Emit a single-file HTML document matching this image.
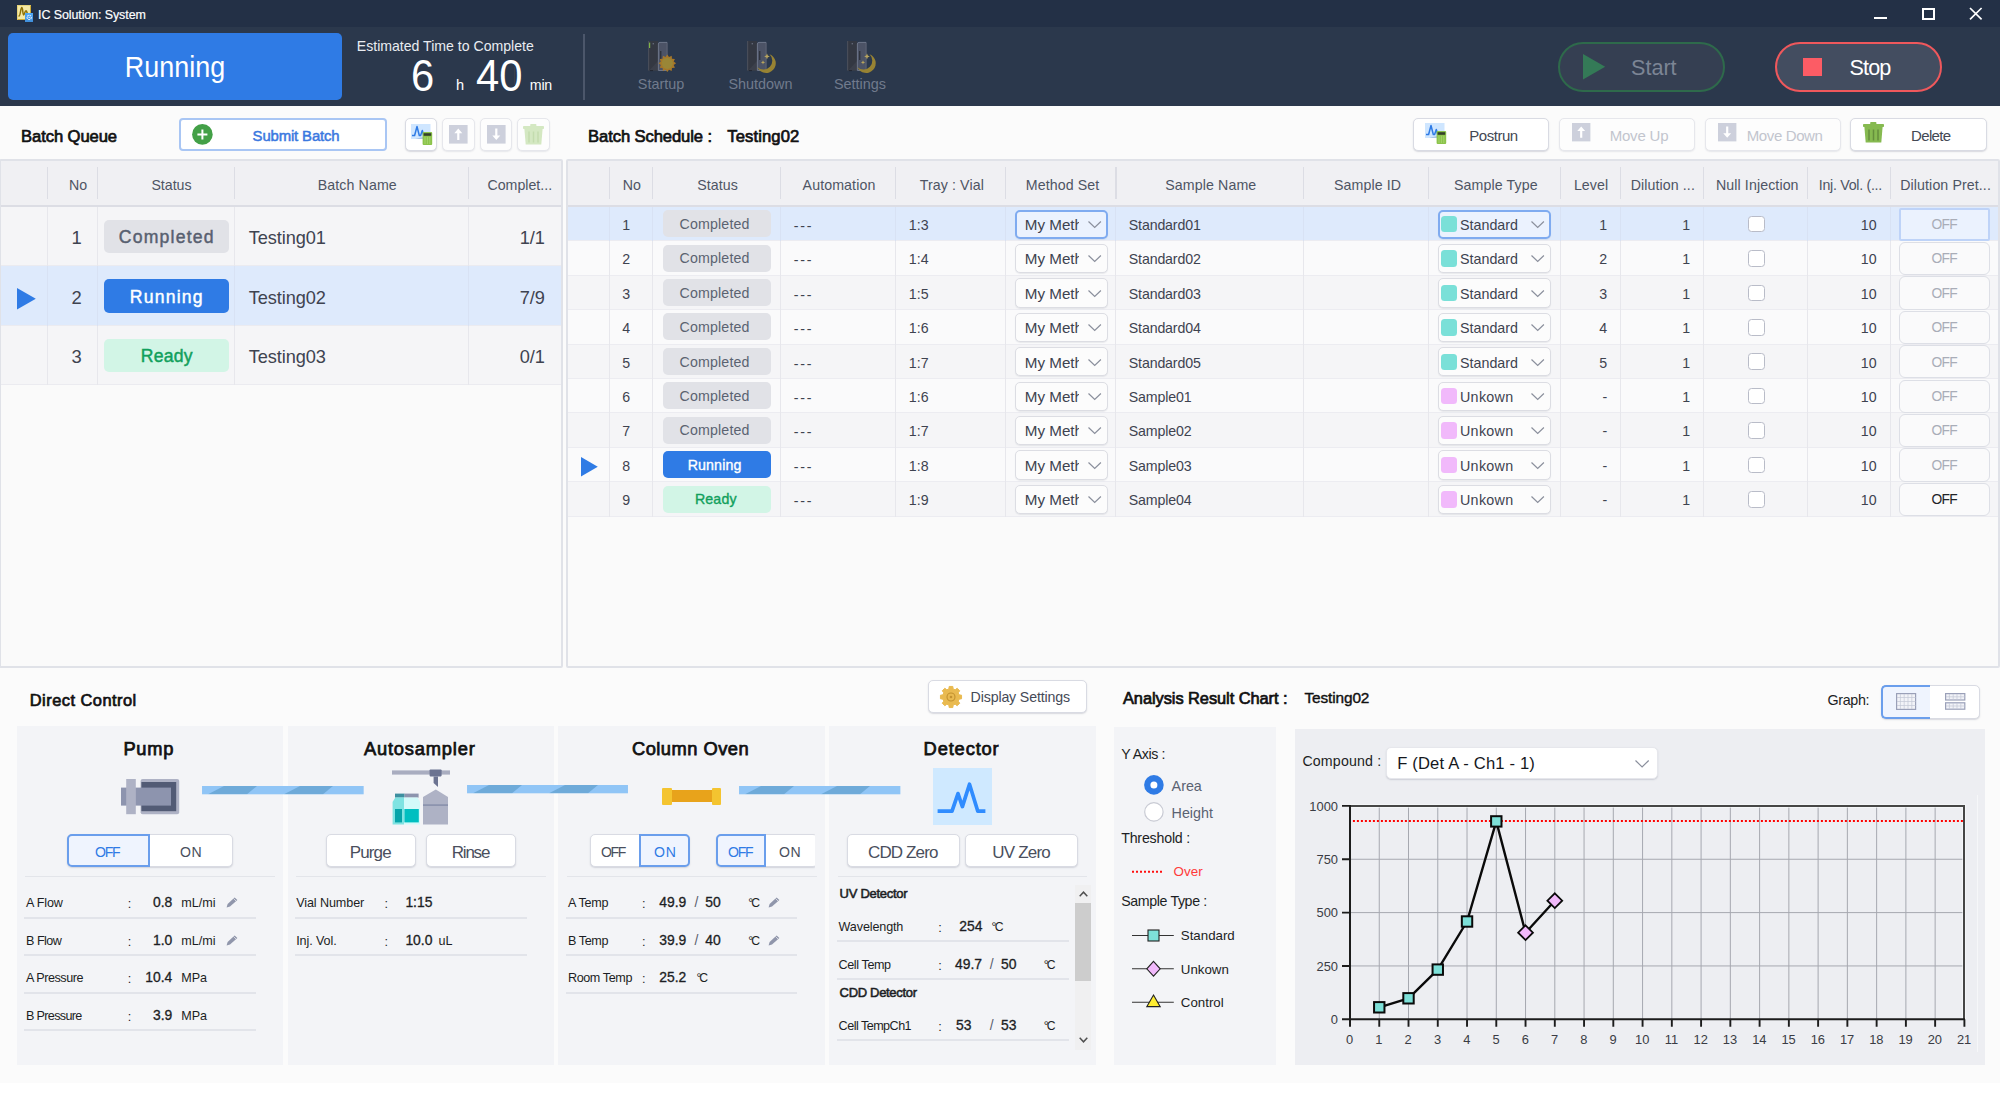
<!DOCTYPE html>
<html lang="en"><head><meta charset="utf-8"><title>IC Solution: System</title>
<style>
html,body{margin:0;padding:0;}
body{width:2000px;height:1098px;overflow:hidden;background:#ffffff;font-family:"Liberation Sans",sans-serif;}
#app{position:relative;width:2000px;height:1098px;overflow:hidden;background:#ffffff;}
.t{position:absolute;white-space:nowrap;margin:0;padding:0;}
.b{position:absolute;box-sizing:border-box;}
.btn{position:absolute;box-sizing:border-box;background:#fff;border:1px solid #d9dbe3;border-radius:5px;box-shadow:0 1px 1.5px rgba(90,95,120,.22);}
.btn.dis{border-color:#e6e7ec;box-shadow:0 1px 1.5px rgba(90,95,120,.12);background:#fdfdfd;}
.sel{position:absolute;box-sizing:border-box;background:#eff4fe;border:2px solid #6a9eec;}
.cmb{position:absolute;box-sizing:border-box;background:#fcfcfc;border:1px solid #dcdde3;border-radius:5px;box-shadow:0 1px 1px rgba(90,95,120,.10);}
.cmb.on{background:#ebf2fe;border:2px solid #7fabf0;}
.chk{position:absolute;box-sizing:border-box;background:#fff;border:1.5px solid #b9bcc8;border-radius:3.5px;}
.offb{position:absolute;box-sizing:border-box;background:#fafafb;border:1px solid #dddfe6;border-radius:6px;}
.offb.on{background:#ebf2fe;border:2px solid #bed3f8;border-radius:2px;}
svg{position:absolute;overflow:visible;}

</style></head>
<body>
<div id="app">
<!-- title bar -->
<div class="b" style="left:0px;top:0px;width:2000px;height:27px;background:#233046;"></div>
<div class="b" style="left:16.6px;top:5px;width:14.7px;height:14.8px;background:#f5e9a6;border:1px solid #e6d37a;border-right-color:#d0ad38;border-bottom-color:#d0ad38;"></div>
<svg style="left:16px;top:4px" width="18" height="18" viewBox="16 4 18 18"><path d="M19 16 C20.4 16 20.6 7.6 21.8 7.6 C23 7.6 22.6 15 23.6 15 C24.6 15 24.8 10.8 26 10.8 C27 10.8 27 14 28 14.4" fill="none" stroke="#8f7206" stroke-width="1.5" stroke-linecap="round"/></svg>
<div class="b" style="left:25px;top:13.2px;width:8.3px;height:8.4px;background:linear-gradient(#52aaf7,#3f8edb);"></div>
<svg style="left:25px;top:13.2px" width="9" height="9" viewBox="0 0 9 9"><circle cx="4.2" cy="4.4" r="2.1" fill="none" stroke="#e4f1ff" stroke-width="1.1" stroke-dasharray="1.6 .7"/><circle cx="4.2" cy="4.4" r=".7" fill="#e4f1ff"/></svg>
<div class="t" style="left:37.7px;top:7px;font-size:13.4px;line-height:15px;color:#ffffff;transform-origin:0 0;transform:scaleX(0.93);-webkit-text-stroke:.2px #fff;letter-spacing:-0.09px;">IC Solution: System</div>
<div class="b" style="left:1874px;top:17.3px;width:12.6px;height:1.5px;background:#fff;"></div>
<div class="b" style="left:1921.6px;top:7.6px;width:13px;height:12.2px;border:2px solid #fff;"></div>
<svg style="left:1969px;top:7px" width="14" height="14" viewBox="0 0 14 14"><path d="M1 1 L12.6 12.4 M12.6 1 L1 12.4" stroke="#fff" stroke-width="1.7" fill="none"/></svg>
<!-- toolbar -->
<div class="b" style="left:0px;top:27px;width:2000px;height:79px;background:#2b384c;"></div>
<div class="b" style="left:8.3px;top:33.2px;width:333.7px;height:66.6px;background:#2f7be5;border-radius:5px;"></div>
<div class="t" style="left:175.2px;top:51px;font-size:29.1px;line-height:32px;color:#ffffff;transform:translateX(-50%) scaleX(0.925);">Running</div>
<div class="t" style="left:356.8px;top:38px;font-size:14.1px;line-height:16px;color:#e9ecf1;">Estimated Time to Complete</div>
<div class="t" style="left:411.2px;top:51px;font-size:43.7px;line-height:49px;color:#ffffff;transform-origin:0 0;transform:scaleX(0.955);">6</div>
<div class="t" style="left:456px;top:77px;font-size:14.6px;line-height:16px;color:#ffffff;">h</div>
<div class="t" style="left:476px;top:51px;font-size:43.7px;line-height:49px;color:#ffffff;transform-origin:0 0;transform:scaleX(0.955);">40</div>
<div class="b" style="left:514.2px;top:67.4px;width:1px;height:18.8px;background:#3a3f4c;"></div>
<div class="t" style="left:529.8px;top:77px;font-size:14.2px;line-height:16px;color:#ffffff;letter-spacing:-.2px;">min</div>
<div class="b" style="left:583px;top:33.6px;width:1.5px;height:66.2px;background:#4c576b;"></div>
<svg style="left:647.7px;top:40px" width="32" height="34" viewBox="0 0 32 34"><rect x="0" y="1" width="10" height="29.5" fill="#343842"/><rect x="0" y="1" width="1.2" height="29.5" fill="#484d59"/><path d="M1.2 30.5 L10 21 L10 30.5 Z" fill="#3c404b"/><path d="M10.4 30.5 V4 Q10.4 2.4 12 2.4 H19 V30.5 Z" fill="#4c5366" stroke="#747c8e" stroke-width=".9"/><rect x="18.4" y="3" width="1.2" height="27.5" fill="#4c5366"/><rect x="12" y="11" width="1.4" height="9" fill="#2f333d"/><rect x="4.6" y="3" width="1.4" height="1.4" fill="#626877"/><rect x="2" y="30.2" width="3" height=".9" fill="#20242c"/><rect x="1" y="2.6" width="1.2" height="5.4" fill="#7fb548"/><polygon points="28.10,23.30 25.68,25.01 26.92,27.70 23.97,27.97 23.70,30.92 21.01,29.68 19.30,32.10 17.59,29.68 14.90,30.92 14.63,27.97 11.68,27.70 12.92,25.01 10.50,23.30 12.92,21.59 11.68,18.90 14.63,18.63 14.90,15.68 17.59,16.92 19.30,14.50 21.01,16.92 23.70,15.68 23.97,18.63 26.92,18.90 25.68,21.59" fill="#a67729"/><circle cx="19.3" cy="23.3" r="5.6" fill="#9a8637"/></svg>
<svg style="left:746.8px;top:40px" width="32" height="34" viewBox="0 0 32 34"><rect x="0" y="1" width="10" height="29.5" fill="#343842"/><rect x="0" y="1" width="1.2" height="29.5" fill="#484d59"/><path d="M1.2 30.5 L10 21 L10 30.5 Z" fill="#3c404b"/><path d="M10.4 30.5 V4 Q10.4 2.4 12 2.4 H19 V30.5 Z" fill="#4c5366" stroke="#747c8e" stroke-width=".9"/><rect x="18.4" y="3" width="1.2" height="27.5" fill="#4c5366"/><rect x="12" y="11" width="1.4" height="9" fill="#2f333d"/><rect x="4.6" y="3" width="1.4" height="1.4" fill="#626877"/><rect x="2" y="30.2" width="3" height=".9" fill="#20242c"/><path d="M22.5 14.3 A9.6 9.6 0 1 1 10.4 27.2 A8.6 8.6 0 0 0 22.5 14.3 Z" fill="#988333"/><path d="M20 13.6 l.8 2 2 .8 -2 .8 -.8 2 -.8 -2 -2 -.8 2 -.8z" fill="#b9a55e"/><path d="M16 20.3 l.6 1.5 1.5 .6 -1.5 .6 -.6 1.5 -.6 -1.5 -1.5 -.6 1.5 -.6z" fill="#b9a55e"/></svg>
<svg style="left:846.6px;top:40px" width="32" height="34" viewBox="0 0 32 34"><rect x="0" y="1" width="10" height="29.5" fill="#343842"/><rect x="0" y="1" width="1.2" height="29.5" fill="#484d59"/><path d="M1.2 30.5 L10 21 L10 30.5 Z" fill="#3c404b"/><path d="M10.4 30.5 V4 Q10.4 2.4 12 2.4 H19 V30.5 Z" fill="#4c5366" stroke="#747c8e" stroke-width=".9"/><rect x="18.4" y="3" width="1.2" height="27.5" fill="#4c5366"/><rect x="12" y="11" width="1.4" height="9" fill="#2f333d"/><rect x="4.6" y="3" width="1.4" height="1.4" fill="#626877"/><rect x="2" y="30.2" width="3" height=".9" fill="#20242c"/><path d="M22.5 14.3 A9.6 9.6 0 1 1 10.4 27.2 A8.6 8.6 0 0 0 22.5 14.3 Z" fill="#988333"/><path d="M20 13.6 l.8 2 2 .8 -2 .8 -.8 2 -.8 -2 -2 -.8 2 -.8z" fill="#b9a55e"/><path d="M16 20.3 l.6 1.5 1.5 .6 -1.5 .6 -.6 1.5 -.6 -1.5 -1.5 -.6 1.5 -.6z" fill="#b9a55e"/></svg>
<div class="t" style="left:661px;top:76px;font-size:14.4px;line-height:16px;color:#717b8d;transform:translateX(-50%);">Startup</div>
<div class="t" style="left:760.5px;top:76px;font-size:14.4px;line-height:16px;color:#717b8d;transform:translateX(-50%);">Shutdown</div>
<div class="t" style="left:860px;top:76px;font-size:14.4px;line-height:16px;color:#717b8d;transform:translateX(-50%);">Settings</div>
<div class="b" style="left:1558.4px;top:41.6px;width:166.4px;height:50.2px;background:#353f52;border:2px solid #2e6a4b;border-radius:25px;"></div>
<svg style="left:1583px;top:54.4px" width="23" height="26" viewBox="0 0 23 26"><path d="M0 0 L22.2 12.8 L0 25.6 Z" fill="#347a57"/></svg>
<div class="t" style="left:1631px;top:55px;font-size:21.6px;line-height:25px;color:#7c8595;">Start</div>
<div class="b" style="left:1774.8px;top:41.6px;width:166.8px;height:50.2px;background:#434d60;border:2px solid #ef585c;border-radius:25px;"></div>
<div class="b" style="left:1803px;top:57.6px;width:19px;height:18.4px;background:#fc5c65;"></div>
<div class="t" style="left:1849.4px;top:55px;font-size:21.6px;line-height:25px;color:#ffffff;letter-spacing:-0.83px;">Stop</div>
<!-- sub toolbar -->
<div class="b" style="left:0px;top:106px;width:2000px;height:976.5px;background:#fbfbfb;"></div>
<div class="t" style="left:21.1px;top:127px;font-size:16.6px;line-height:19px;color:#111111;-webkit-text-stroke:.7px #111;letter-spacing:-0.09px;">Batch Queue</div>
<div class="b" style="left:179.3px;top:118.2px;width:208px;height:32.4px;background:#fff;border:2px solid #a9c6f4;border-radius:4px;"></div>
<svg style="left:191.5px;top:124px" width="21" height="21" viewBox="0 0 21 21"><circle cx="10.4" cy="10.4" r="10.3" fill="#43a047"/><path d="M10.4 5.4 V15.4 M5.4 10.4 H15.4" stroke="#fff" stroke-width="2" fill="none"/></svg>
<div class="t" style="left:252.6px;top:128px;font-size:14.9px;line-height:16px;color:#3a78e0;-webkit-text-stroke:.5px #3a78e0;letter-spacing:-0.14px;">Submit Batch</div>
<div class="btn" style="left:404.5px;top:118.2px;width:32.3px;height:32.4px;"></div>
<div class="btn dis" style="left:442.3px;top:118.2px;width:32.3px;height:32.4px;"></div>
<div class="btn dis" style="left:479.8px;top:118.2px;width:32.3px;height:32.4px;"></div>
<div class="btn dis" style="left:517.3px;top:118.2px;width:32.3px;height:32.4px;"></div>
<svg style="left:410.5px;top:123.5px" width="22" height="22" viewBox="0 0 22 22"><rect x="0" y="0" width="19.5" height="15" fill="#cfe6ff"/><path d="M1 11.5 H3.6 L6 2.5 L8.3 11.5 H9.6 L11.3 6.5 L12.8 11.5 H14" fill="none" stroke="#2f7be5" stroke-width="1.5" stroke-linejoin="round"/><path d="M4 15 L14 12.6 V15 Z" fill="#a9c4e6"/><rect x="11.6" y="8" width="9.6" height="13" rx="1" fill="#8bc34a"/><rect x="12.6" y="9.2" width="7.6" height="2.6" fill="#33402a"/><path d="M14 12.8 V20 M16.4 12.8 V20 M18.8 12.8 V20" stroke="#a9d773" stroke-width=".8"/></svg>
<svg style="left:449px;top:125px" width="18.6" height="18.6" viewBox="0 0 18.6 18.6"><rect width="18.6" height="18.6" fill="#cdd0dc"/><path d="M9.3 3.6 L13.3 8.2 H10.4 V15 H8.2 V8.2 H5.3 Z" fill="#fff"/></svg>
<svg style="left:486.5px;top:125px" width="18.6" height="18.6" viewBox="0 0 18.6 18.6"><rect width="18.6" height="18.6" fill="#cdd0dc"/><path d="M9.3 15 L13.3 10.4 H10.4 V3.6 H8.2 V10.4 H5.3 Z" fill="#fff"/></svg>
<svg style="left:523px;top:124px" width="22" height="22" viewBox="0 0 22 22"><rect x="7.2" y="0" width="6.2" height="2.6" rx=".8" fill="#d4e8c2"/><rect x="0" y="1.9" width="21" height="3.2" rx=".8" fill="#d4e8c2"/><path d="M1.4 5.1 H19.6 L18.3 20.6 H2.7 Z" fill="#d4e8c2"/><path d="M6 7.5 V18.5 M10.5 7.5 V18.5 M15 7.5 V18.5" stroke="#c3dcae" stroke-width="1.5"/></svg>
<div class="t" style="left:588.1px;top:127px;font-size:16.6px;line-height:19px;color:#111111;-webkit-text-stroke:.7px #111;letter-spacing:-0.1px;">Batch Schedule :</div>
<div class="t" style="left:727.3px;top:127px;font-size:16.6px;line-height:19px;color:#111111;-webkit-text-stroke:.7px #111;letter-spacing:0.12px;">Testing02</div>
<div class="btn" style="left:1412.7px;top:118.2px;width:136.8px;height:32.4px;"></div>
<svg style="left:1425px;top:122.8px" width="22" height="22" viewBox="0 0 22 22"><rect x="0" y="0" width="19.5" height="15" fill="#cfe6ff"/><path d="M1 11.5 H3.6 L6 2.5 L8.3 11.5 H9.6 L11.3 6.5 L12.8 11.5 H14" fill="none" stroke="#2f7be5" stroke-width="1.5" stroke-linejoin="round"/><path d="M4 15 L14 12.6 V15 Z" fill="#a9c4e6"/><rect x="11.6" y="8" width="9.6" height="13" rx="1" fill="#8bc34a"/><rect x="12.6" y="9.2" width="7.6" height="2.6" fill="#33402a"/><path d="M14 12.8 V20 M16.4 12.8 V20 M18.8 12.8 V20" stroke="#a9d773" stroke-width=".8"/></svg>
<div class="t" style="left:1469.3px;top:127px;font-size:15px;line-height:17px;color:#434853;letter-spacing:-0.47px;">Postrun</div>
<div class="btn dis" style="left:1559px;top:118.2px;width:136.2px;height:32.4px;"></div>
<svg style="left:1571.8px;top:123.2px" width="18.4" height="18.4" viewBox="0 0 18.6 18.6"><rect width="18.6" height="18.6" fill="#cdd0dc"/><path d="M9.3 3.6 L13.3 8.2 H10.4 V15 H8.2 V8.2 H5.3 Z" fill="#fff"/></svg>
<div class="t" style="left:1609.7px;top:127px;font-size:15px;line-height:17px;color:#c2c5ce;letter-spacing:-0.2px;">Move Up</div>
<div class="btn dis" style="left:1704.8px;top:118.2px;width:136.4px;height:32.4px;"></div>
<svg style="left:1717.5px;top:123.2px" width="18.4" height="18.4" viewBox="0 0 18.6 18.6"><rect width="18.6" height="18.6" fill="#cdd0dc"/><path d="M9.3 15 L13.3 10.4 H10.4 V3.6 H8.2 V10.4 H5.3 Z" fill="#fff"/></svg>
<div class="t" style="left:1746.7px;top:127px;font-size:15px;line-height:17px;color:#c2c5ce;letter-spacing:-0.37px;">Move Down</div>
<div class="btn" style="left:1850.2px;top:118.2px;width:137px;height:32.4px;"></div>
<svg style="left:1862.5px;top:122px" width="22" height="22" viewBox="0 0 22 22"><rect x="7.2" y="0" width="6.2" height="2.6" rx=".8" fill="#86ba50"/><rect x="0" y="1.9" width="21" height="3.2" rx=".8" fill="#86ba50"/><path d="M1.4 5.1 H19.6 L18.3 20.6 H2.7 Z" fill="#86ba50"/><path d="M6 7.5 V18.5 M10.5 7.5 V18.5 M15 7.5 V18.5" stroke="#658f3c" stroke-width="1.5"/></svg>
<div class="t" style="left:1911px;top:127px;font-size:15px;line-height:17px;color:#434853;letter-spacing:-0.63px;">Delete</div>
<!-- batch queue table -->
<div class="b" style="left:-1px;top:159px;width:564px;height:509px;background:#fafafa;border:2px solid #e0e2e8;border-radius:2px;"></div>
<div class="b" style="left:1px;top:161px;width:560px;height:46.4px;background:#f0f0f3;border-bottom:2px solid #dcdde4;"></div>
<div class="b" style="left:47px;top:167.3px;width:1.2px;height:32.1px;background:#dcdde4;"></div>
<div class="b" style="left:97px;top:167.3px;width:1.2px;height:32.1px;background:#dcdde4;"></div>
<div class="b" style="left:234px;top:167.3px;width:1.2px;height:32.1px;background:#dcdde4;"></div>
<div class="b" style="left:467.8px;top:167.3px;width:1.2px;height:32.1px;background:#dcdde4;"></div>
<div class="t" style="left:78.2px;top:177px;font-size:14.2px;line-height:16px;color:#4e5564;transform:translateX(-50%);">No</div>
<div class="t" style="left:171.5px;top:177px;font-size:14.2px;line-height:16px;color:#4e5564;transform:translateX(-50%);">Status</div>
<div class="t" style="left:357.3px;top:177px;font-size:14.2px;line-height:16px;color:#4e5564;transform:translateX(-50%);letter-spacing:.1px;">Batch Name</div>
<div class="t" style="left:519.8px;top:177px;font-size:14.2px;line-height:16px;color:#4e5564;transform:translateX(-50%);">Complet...</div>
<div class="b" style="left:1px;top:206.9px;width:560px;height:59.4px;background:#f5f5f7;border-bottom:1px solid #ebebf0;"></div>
<div class="b" style="left:47px;top:206.9px;width:1.1px;height:59.4px;background:#e7e7ec;"></div>
<div class="b" style="left:97px;top:206.9px;width:1.1px;height:59.4px;background:#e7e7ec;"></div>
<div class="b" style="left:234px;top:206.9px;width:1.1px;height:59.4px;background:#e7e7ec;"></div>
<div class="b" style="left:467.8px;top:206.9px;width:1.1px;height:59.4px;background:#e7e7ec;"></div>
<div class="t" style="left:76.6px;top:227px;font-size:18.4px;line-height:21px;color:#3e4350;transform:translateX(-50%);">1</div>
<div class="b" style="left:104.2px;top:220px;width:125px;height:33.2px;background:#e1e2e7;border-radius:5px;"></div>
<div class="t" style="left:166.8px;top:227px;font-size:17.6px;line-height:20px;color:#586070;transform:translateX(-50%);letter-spacing:1.2px;-webkit-text-stroke:.45px #586070;">Completed</div>
<div class="t" style="left:248.8px;top:228px;font-size:18.2px;line-height:20px;color:#3e4350;letter-spacing:-.1px;">Testing01</div>
<div class="t" style="left:545px;top:228px;font-size:18.2px;line-height:20px;color:#3e4350;transform-origin:100% 0;transform:translateX(-100%);">1/1</div>
<div class="b" style="left:1px;top:266.3px;width:560px;height:59.4px;background:#deeafc;border-bottom:1px solid #ebebf0;"></div>
<div class="b" style="left:47px;top:266.3px;width:1.1px;height:59.4px;background:#d8e2f4;"></div>
<div class="b" style="left:97px;top:266.3px;width:1.1px;height:59.4px;background:#d8e2f4;"></div>
<div class="b" style="left:234px;top:266.3px;width:1.1px;height:59.4px;background:#d8e2f4;"></div>
<div class="b" style="left:467.8px;top:266.3px;width:1.1px;height:59.4px;background:#d8e2f4;"></div>
<div class="t" style="left:76.6px;top:287px;font-size:18.4px;line-height:21px;color:#3e4350;transform:translateX(-50%);">2</div>
<div class="b" style="left:104.2px;top:279.4px;width:125px;height:33.2px;background:#2f7be5;border-radius:5px;"></div>
<div class="t" style="left:166.8px;top:287px;font-size:17.6px;line-height:20px;color:#ffffff;transform:translateX(-50%);letter-spacing:1.2px;-webkit-text-stroke:.45px #ffffff;">Running</div>
<div class="t" style="left:248.8px;top:288px;font-size:18.2px;line-height:20px;color:#3e4350;letter-spacing:-.1px;">Testing02</div>
<div class="t" style="left:545px;top:288px;font-size:18.2px;line-height:20px;color:#3e4350;transform-origin:100% 0;transform:translateX(-100%);">7/9</div>
<svg style="left:17.2px;top:288px" width="18.8" height="21.6" viewBox="0 0 18.8 21.6"><path d="M0 0 L18.8 10.8 L0 21.6 Z" fill="#2f7be5"/></svg>
<div class="b" style="left:1px;top:325.7px;width:560px;height:59.4px;background:#f5f5f7;border-bottom:1px solid #ebebf0;"></div>
<div class="b" style="left:47px;top:325.7px;width:1.1px;height:59.4px;background:#e7e7ec;"></div>
<div class="b" style="left:97px;top:325.7px;width:1.1px;height:59.4px;background:#e7e7ec;"></div>
<div class="b" style="left:234px;top:325.7px;width:1.1px;height:59.4px;background:#e7e7ec;"></div>
<div class="b" style="left:467.8px;top:325.7px;width:1.1px;height:59.4px;background:#e7e7ec;"></div>
<div class="t" style="left:76.6px;top:346px;font-size:18.4px;line-height:21px;color:#3e4350;transform:translateX(-50%);">3</div>
<div class="b" style="left:104.2px;top:338.8px;width:125px;height:33.2px;background:#d2f5e6;border-radius:5px;"></div>
<div class="t" style="left:166.8px;top:346px;font-size:17.6px;line-height:20px;color:#11a05c;transform:translateX(-50%);letter-spacing:.2px;-webkit-text-stroke:.45px #11a05c;">Ready</div>
<div class="t" style="left:248.8px;top:347px;font-size:18.2px;line-height:20px;color:#3e4350;letter-spacing:-.1px;">Testing03</div>
<div class="t" style="left:545px;top:347px;font-size:18.2px;line-height:20px;color:#3e4350;transform-origin:100% 0;transform:translateX(-100%);">0/1</div>
<!-- batch schedule table -->
<div class="b" style="left:566px;top:159px;width:1434px;height:509px;background:#fafafa;border:2px solid #e0e2e8;border-radius:2px;"></div>
<div class="b" style="left:568px;top:161px;width:1430px;height:46.4px;background:#f0f0f3;border-bottom:2px solid #dcdde4;"></div>
<div class="b" style="left:608.5px;top:167.3px;width:1.2px;height:32.1px;background:#dcdde4;"></div>
<div class="b" style="left:651.9px;top:167.3px;width:1.2px;height:32.1px;background:#dcdde4;"></div>
<div class="b" style="left:779.9px;top:167.3px;width:1.2px;height:32.1px;background:#dcdde4;"></div>
<div class="b" style="left:894.9px;top:167.3px;width:1.2px;height:32.1px;background:#dcdde4;"></div>
<div class="b" style="left:1005.1px;top:167.3px;width:1.2px;height:32.1px;background:#dcdde4;"></div>
<div class="b" style="left:1115.4px;top:167.3px;width:1.2px;height:32.1px;background:#dcdde4;"></div>
<div class="b" style="left:1303.1px;top:167.3px;width:1.2px;height:32.1px;background:#dcdde4;"></div>
<div class="b" style="left:1428px;top:167.3px;width:1.2px;height:32.1px;background:#dcdde4;"></div>
<div class="b" style="left:1559.5px;top:167.3px;width:1.2px;height:32.1px;background:#dcdde4;"></div>
<div class="b" style="left:1619.9px;top:167.3px;width:1.2px;height:32.1px;background:#dcdde4;"></div>
<div class="b" style="left:1702.8px;top:167.3px;width:1.2px;height:32.1px;background:#dcdde4;"></div>
<div class="b" style="left:1807.1px;top:167.3px;width:1.2px;height:32.1px;background:#dcdde4;"></div>
<div class="b" style="left:1889.7px;top:167.3px;width:1.2px;height:32.1px;background:#dcdde4;"></div>
<div class="t" style="left:631.8px;top:177px;font-size:14.2px;line-height:16px;color:#4e5564;transform:translateX(-50%);letter-spacing:.1px;">No</div>
<div class="t" style="left:717.6px;top:177px;font-size:14.2px;line-height:16px;color:#4e5564;transform:translateX(-50%);letter-spacing:.1px;">Status</div>
<div class="t" style="left:839px;top:177px;font-size:14.2px;line-height:16px;color:#4e5564;transform:translateX(-50%);letter-spacing:.1px;">Automation</div>
<div class="t" style="left:951.8px;top:177px;font-size:14.2px;line-height:16px;color:#4e5564;transform:translateX(-50%);letter-spacing:.1px;">Tray : Vial</div>
<div class="t" style="left:1062.6px;top:177px;font-size:14.2px;line-height:16px;color:#4e5564;transform:translateX(-50%);letter-spacing:.1px;">Method Set</div>
<div class="t" style="left:1210.8px;top:177px;font-size:14.2px;line-height:16px;color:#4e5564;transform:translateX(-50%);letter-spacing:.1px;">Sample Name</div>
<div class="t" style="left:1367.6px;top:177px;font-size:14.2px;line-height:16px;color:#4e5564;transform:translateX(-50%);letter-spacing:.1px;">Sample ID</div>
<div class="t" style="left:1495.8px;top:177px;font-size:14.2px;line-height:16px;color:#4e5564;transform:translateX(-50%);letter-spacing:.1px;">Sample Type</div>
<div class="t" style="left:1591.1px;top:177px;font-size:14.2px;line-height:16px;color:#4e5564;transform:translateX(-50%);letter-spacing:.1px;">Level</div>
<div class="t" style="left:1662.8px;top:177px;font-size:14.2px;line-height:16px;color:#4e5564;transform:translateX(-50%);letter-spacing:.1px;">Dilution ...</div>
<div class="t" style="left:1757.3px;top:177px;font-size:14.2px;line-height:16px;color:#4e5564;transform:translateX(-50%);letter-spacing:.1px;">Null Injection</div>
<div class="t" style="left:1818.8px;top:177px;font-size:14.2px;line-height:16px;color:#4e5564;letter-spacing:-0.28px;">Inj. Vol. (...</div>
<div class="t" style="left:1945.6px;top:177px;font-size:14.2px;line-height:16px;color:#4e5564;transform:translateX(-50%);letter-spacing:.1px;">Dilution Pret...</div>
<div class="b" style="left:568px;top:206.9px;width:1430px;height:34.42px;background:#deeafc;border-bottom:1px solid #ececf1;"></div>
<div class="b" style="left:608.5px;top:206.9px;width:1.1px;height:34.42px;background:#d8e2f4;"></div>
<div class="b" style="left:651.9px;top:206.9px;width:1.1px;height:34.42px;background:#d8e2f4;"></div>
<div class="b" style="left:779.9px;top:206.9px;width:1.1px;height:34.42px;background:#d8e2f4;"></div>
<div class="b" style="left:894.9px;top:206.9px;width:1.1px;height:34.42px;background:#d8e2f4;"></div>
<div class="b" style="left:1005.1px;top:206.9px;width:1.1px;height:34.42px;background:#d8e2f4;"></div>
<div class="b" style="left:1115.4px;top:206.9px;width:1.1px;height:34.42px;background:#d8e2f4;"></div>
<div class="b" style="left:1303.1px;top:206.9px;width:1.1px;height:34.42px;background:#d8e2f4;"></div>
<div class="b" style="left:1428px;top:206.9px;width:1.1px;height:34.42px;background:#d8e2f4;"></div>
<div class="b" style="left:1559.5px;top:206.9px;width:1.1px;height:34.42px;background:#d8e2f4;"></div>
<div class="b" style="left:1619.9px;top:206.9px;width:1.1px;height:34.42px;background:#d8e2f4;"></div>
<div class="b" style="left:1702.8px;top:206.9px;width:1.1px;height:34.42px;background:#d8e2f4;"></div>
<div class="b" style="left:1807.1px;top:206.9px;width:1.1px;height:34.42px;background:#d8e2f4;"></div>
<div class="b" style="left:1889.7px;top:206.9px;width:1.1px;height:34.42px;background:#d8e2f4;"></div>
<div class="t" style="left:626.2px;top:217px;font-size:14.2px;line-height:16px;color:#3e4350;transform:translateX(-50%);">1</div>
<div class="b" style="left:663px;top:210.21px;width:107.8px;height:27px;background:#e1e2e7;border-radius:5px;"></div>
<div class="t" style="left:714.6px;top:216px;font-size:14.2px;line-height:16px;color:#5b6271;transform:translateX(-50%);letter-spacing:.15px;">Completed</div>
<div class="t" style="left:793.8px;top:218px;font-size:14.2px;line-height:16px;color:#3e4350;letter-spacing:1.8px;">---</div>
<div class="t" style="left:908.8px;top:217px;font-size:14.2px;line-height:16px;color:#3e4350;">1:3</div>
<div class="cmb on" style="left:1015px;top:209.51px;width:92.6px;height:29.2px;"></div>
<div class="b" style="left:1024.8px;top:213.11px;width:54.6px;height:22px;overflow:hidden">
<div class="t" style="left:0;top:2.89px;font-size:15.2px;line-height:17px;color:#3e4350">My Method</div></div>
<svg style="left:1087.6px;top:220.91px" width="13.4" height="7" viewBox="0 0 13.4 7"><path d="M.5 .5 L6.7 6.4 L12.9 .5" fill="none" stroke="#8a8f9c" stroke-width="1.2"/></svg>
<div class="t" style="left:1128.8px;top:217px;font-size:14.2px;line-height:16px;color:#3e4350;letter-spacing:-.15px;">Standard01</div>
<div class="cmb on" style="left:1438px;top:209.51px;width:113.4px;height:29.2px;"></div>
<div class="b" style="left:1441px;top:215.91px;width:15.8px;height:16.4px;background:#7ae0d8;border-radius:3.5px;"></div>
<div class="t" style="left:1460px;top:217px;font-size:14.3px;line-height:16px;color:#3e4350;letter-spacing:0px;">Standard</div>
<svg style="left:1531.3px;top:220.91px" width="13.4" height="7" viewBox="0 0 13.4 7"><path d="M.5 .5 L6.7 6.4 L12.9 .5" fill="none" stroke="#8a8f9c" stroke-width="1.2"/></svg>
<div class="t" style="left:1607.2px;top:217px;font-size:14.2px;line-height:16px;color:#3e4350;transform-origin:100% 0;transform:translateX(-100%);">1</div>
<div class="t" style="left:1690.2px;top:217px;font-size:14.2px;line-height:16px;color:#3e4350;transform-origin:100% 0;transform:translateX(-100%);">1</div>
<div class="chk" style="left:1748px;top:215.71px;width:16.8px;height:16.6px;"></div>
<div class="t" style="left:1876.6px;top:217px;font-size:14.2px;line-height:16px;color:#3e4350;transform-origin:100% 0;transform:translateX(-100%);">10</div>
<div class="offb on" style="left:1899.2px;top:207.5px;width:91.2px;height:33.22px;"></div>
<div class="t" style="left:1944.3px;top:217px;font-size:13.8px;line-height:15px;color:#a9adb8;transform:translateX(-50%);letter-spacing:-.7px;">OFF</div>
<div class="b" style="left:568px;top:241.32px;width:1430px;height:34.42px;background:#fafafb;border-bottom:1px solid #ececf1;"></div>
<div class="b" style="left:608.5px;top:241.32px;width:1.1px;height:34.42px;background:#e7e7ec;"></div>
<div class="b" style="left:651.9px;top:241.32px;width:1.1px;height:34.42px;background:#e7e7ec;"></div>
<div class="b" style="left:779.9px;top:241.32px;width:1.1px;height:34.42px;background:#e7e7ec;"></div>
<div class="b" style="left:894.9px;top:241.32px;width:1.1px;height:34.42px;background:#e7e7ec;"></div>
<div class="b" style="left:1005.1px;top:241.32px;width:1.1px;height:34.42px;background:#e7e7ec;"></div>
<div class="b" style="left:1115.4px;top:241.32px;width:1.1px;height:34.42px;background:#e7e7ec;"></div>
<div class="b" style="left:1303.1px;top:241.32px;width:1.1px;height:34.42px;background:#e7e7ec;"></div>
<div class="b" style="left:1428px;top:241.32px;width:1.1px;height:34.42px;background:#e7e7ec;"></div>
<div class="b" style="left:1559.5px;top:241.32px;width:1.1px;height:34.42px;background:#e7e7ec;"></div>
<div class="b" style="left:1619.9px;top:241.32px;width:1.1px;height:34.42px;background:#e7e7ec;"></div>
<div class="b" style="left:1702.8px;top:241.32px;width:1.1px;height:34.42px;background:#e7e7ec;"></div>
<div class="b" style="left:1807.1px;top:241.32px;width:1.1px;height:34.42px;background:#e7e7ec;"></div>
<div class="b" style="left:1889.7px;top:241.32px;width:1.1px;height:34.42px;background:#e7e7ec;"></div>
<div class="t" style="left:626.2px;top:251px;font-size:14.2px;line-height:16px;color:#3e4350;transform:translateX(-50%);">2</div>
<div class="b" style="left:663px;top:244.63px;width:107.8px;height:27px;background:#e1e2e7;border-radius:5px;"></div>
<div class="t" style="left:714.6px;top:250px;font-size:14.2px;line-height:16px;color:#5b6271;transform:translateX(-50%);letter-spacing:.15px;">Completed</div>
<div class="t" style="left:793.8px;top:252px;font-size:14.2px;line-height:16px;color:#3e4350;letter-spacing:1.8px;">---</div>
<div class="t" style="left:908.8px;top:251px;font-size:14.2px;line-height:16px;color:#3e4350;">1:4</div>
<div class="cmb" style="left:1015px;top:243.93px;width:92.6px;height:29.2px;"></div>
<div class="b" style="left:1024.8px;top:247.53px;width:54.6px;height:22px;overflow:hidden">
<div class="t" style="left:0;top:2.47px;font-size:15.2px;line-height:17px;color:#3e4350">My Method</div></div>
<svg style="left:1087.6px;top:255.33px" width="13.4" height="7" viewBox="0 0 13.4 7"><path d="M.5 .5 L6.7 6.4 L12.9 .5" fill="none" stroke="#8a8f9c" stroke-width="1.2"/></svg>
<div class="t" style="left:1128.8px;top:251px;font-size:14.2px;line-height:16px;color:#3e4350;letter-spacing:-.15px;">Standard02</div>
<div class="cmb" style="left:1438px;top:243.93px;width:113.4px;height:29.2px;"></div>
<div class="b" style="left:1441px;top:250.33px;width:15.8px;height:16.4px;background:#7ae0d8;border-radius:3.5px;"></div>
<div class="t" style="left:1460px;top:251px;font-size:14.3px;line-height:16px;color:#3e4350;letter-spacing:0px;">Standard</div>
<svg style="left:1531.3px;top:255.33px" width="13.4" height="7" viewBox="0 0 13.4 7"><path d="M.5 .5 L6.7 6.4 L12.9 .5" fill="none" stroke="#8a8f9c" stroke-width="1.2"/></svg>
<div class="t" style="left:1607.2px;top:251px;font-size:14.2px;line-height:16px;color:#3e4350;transform-origin:100% 0;transform:translateX(-100%);">2</div>
<div class="t" style="left:1690.2px;top:251px;font-size:14.2px;line-height:16px;color:#3e4350;transform-origin:100% 0;transform:translateX(-100%);">1</div>
<div class="chk" style="left:1748px;top:250.13px;width:16.8px;height:16.6px;"></div>
<div class="t" style="left:1876.6px;top:251px;font-size:14.2px;line-height:16px;color:#3e4350;transform-origin:100% 0;transform:translateX(-100%);">10</div>
<div class="offb" style="left:1899.2px;top:241.92px;width:91.2px;height:33.22px;"></div>
<div class="t" style="left:1944.3px;top:251px;font-size:13.8px;line-height:15px;color:#a9adb8;transform:translateX(-50%);letter-spacing:-.7px;">OFF</div>
<div class="b" style="left:568px;top:275.74px;width:1430px;height:34.42px;background:#f5f5f7;border-bottom:1px solid #ececf1;"></div>
<div class="b" style="left:608.5px;top:275.74px;width:1.1px;height:34.42px;background:#e7e7ec;"></div>
<div class="b" style="left:651.9px;top:275.74px;width:1.1px;height:34.42px;background:#e7e7ec;"></div>
<div class="b" style="left:779.9px;top:275.74px;width:1.1px;height:34.42px;background:#e7e7ec;"></div>
<div class="b" style="left:894.9px;top:275.74px;width:1.1px;height:34.42px;background:#e7e7ec;"></div>
<div class="b" style="left:1005.1px;top:275.74px;width:1.1px;height:34.42px;background:#e7e7ec;"></div>
<div class="b" style="left:1115.4px;top:275.74px;width:1.1px;height:34.42px;background:#e7e7ec;"></div>
<div class="b" style="left:1303.1px;top:275.74px;width:1.1px;height:34.42px;background:#e7e7ec;"></div>
<div class="b" style="left:1428px;top:275.74px;width:1.1px;height:34.42px;background:#e7e7ec;"></div>
<div class="b" style="left:1559.5px;top:275.74px;width:1.1px;height:34.42px;background:#e7e7ec;"></div>
<div class="b" style="left:1619.9px;top:275.74px;width:1.1px;height:34.42px;background:#e7e7ec;"></div>
<div class="b" style="left:1702.8px;top:275.74px;width:1.1px;height:34.42px;background:#e7e7ec;"></div>
<div class="b" style="left:1807.1px;top:275.74px;width:1.1px;height:34.42px;background:#e7e7ec;"></div>
<div class="b" style="left:1889.7px;top:275.74px;width:1.1px;height:34.42px;background:#e7e7ec;"></div>
<div class="t" style="left:626.2px;top:286px;font-size:14.2px;line-height:16px;color:#3e4350;transform:translateX(-50%);">3</div>
<div class="b" style="left:663px;top:279.05px;width:107.8px;height:27px;background:#e1e2e7;border-radius:5px;"></div>
<div class="t" style="left:714.6px;top:285px;font-size:14.2px;line-height:16px;color:#5b6271;transform:translateX(-50%);letter-spacing:.15px;">Completed</div>
<div class="t" style="left:793.8px;top:287px;font-size:14.2px;line-height:16px;color:#3e4350;letter-spacing:1.8px;">---</div>
<div class="t" style="left:908.8px;top:286px;font-size:14.2px;line-height:16px;color:#3e4350;">1:5</div>
<div class="cmb" style="left:1015px;top:278.35px;width:92.6px;height:29.2px;"></div>
<div class="b" style="left:1024.8px;top:281.95px;width:54.6px;height:22px;overflow:hidden">
<div class="t" style="left:0;top:3.05px;font-size:15.2px;line-height:17px;color:#3e4350">My Method</div></div>
<svg style="left:1087.6px;top:289.75px" width="13.4" height="7" viewBox="0 0 13.4 7"><path d="M.5 .5 L6.7 6.4 L12.9 .5" fill="none" stroke="#8a8f9c" stroke-width="1.2"/></svg>
<div class="t" style="left:1128.8px;top:286px;font-size:14.2px;line-height:16px;color:#3e4350;letter-spacing:-.15px;">Standard03</div>
<div class="cmb" style="left:1438px;top:278.35px;width:113.4px;height:29.2px;"></div>
<div class="b" style="left:1441px;top:284.75px;width:15.8px;height:16.4px;background:#7ae0d8;border-radius:3.5px;"></div>
<div class="t" style="left:1460px;top:286px;font-size:14.3px;line-height:16px;color:#3e4350;letter-spacing:0px;">Standard</div>
<svg style="left:1531.3px;top:289.75px" width="13.4" height="7" viewBox="0 0 13.4 7"><path d="M.5 .5 L6.7 6.4 L12.9 .5" fill="none" stroke="#8a8f9c" stroke-width="1.2"/></svg>
<div class="t" style="left:1607.2px;top:286px;font-size:14.2px;line-height:16px;color:#3e4350;transform-origin:100% 0;transform:translateX(-100%);">3</div>
<div class="t" style="left:1690.2px;top:286px;font-size:14.2px;line-height:16px;color:#3e4350;transform-origin:100% 0;transform:translateX(-100%);">1</div>
<div class="chk" style="left:1748px;top:284.55px;width:16.8px;height:16.6px;"></div>
<div class="t" style="left:1876.6px;top:286px;font-size:14.2px;line-height:16px;color:#3e4350;transform-origin:100% 0;transform:translateX(-100%);">10</div>
<div class="offb" style="left:1899.2px;top:276.34px;width:91.2px;height:33.22px;"></div>
<div class="t" style="left:1944.3px;top:286px;font-size:13.8px;line-height:15px;color:#a9adb8;transform:translateX(-50%);letter-spacing:-.7px;">OFF</div>
<div class="b" style="left:568px;top:310.16px;width:1430px;height:34.42px;background:#fafafb;border-bottom:1px solid #ececf1;"></div>
<div class="b" style="left:608.5px;top:310.16px;width:1.1px;height:34.42px;background:#e7e7ec;"></div>
<div class="b" style="left:651.9px;top:310.16px;width:1.1px;height:34.42px;background:#e7e7ec;"></div>
<div class="b" style="left:779.9px;top:310.16px;width:1.1px;height:34.42px;background:#e7e7ec;"></div>
<div class="b" style="left:894.9px;top:310.16px;width:1.1px;height:34.42px;background:#e7e7ec;"></div>
<div class="b" style="left:1005.1px;top:310.16px;width:1.1px;height:34.42px;background:#e7e7ec;"></div>
<div class="b" style="left:1115.4px;top:310.16px;width:1.1px;height:34.42px;background:#e7e7ec;"></div>
<div class="b" style="left:1303.1px;top:310.16px;width:1.1px;height:34.42px;background:#e7e7ec;"></div>
<div class="b" style="left:1428px;top:310.16px;width:1.1px;height:34.42px;background:#e7e7ec;"></div>
<div class="b" style="left:1559.5px;top:310.16px;width:1.1px;height:34.42px;background:#e7e7ec;"></div>
<div class="b" style="left:1619.9px;top:310.16px;width:1.1px;height:34.42px;background:#e7e7ec;"></div>
<div class="b" style="left:1702.8px;top:310.16px;width:1.1px;height:34.42px;background:#e7e7ec;"></div>
<div class="b" style="left:1807.1px;top:310.16px;width:1.1px;height:34.42px;background:#e7e7ec;"></div>
<div class="b" style="left:1889.7px;top:310.16px;width:1.1px;height:34.42px;background:#e7e7ec;"></div>
<div class="t" style="left:626.2px;top:320px;font-size:14.2px;line-height:16px;color:#3e4350;transform:translateX(-50%);">4</div>
<div class="b" style="left:663px;top:313.47px;width:107.8px;height:27px;background:#e1e2e7;border-radius:5px;"></div>
<div class="t" style="left:714.6px;top:319px;font-size:14.2px;line-height:16px;color:#5b6271;transform:translateX(-50%);letter-spacing:.15px;">Completed</div>
<div class="t" style="left:793.8px;top:321px;font-size:14.2px;line-height:16px;color:#3e4350;letter-spacing:1.8px;">---</div>
<div class="t" style="left:908.8px;top:320px;font-size:14.2px;line-height:16px;color:#3e4350;">1:6</div>
<div class="cmb" style="left:1015px;top:312.77px;width:92.6px;height:29.2px;"></div>
<div class="b" style="left:1024.8px;top:316.37px;width:54.6px;height:22px;overflow:hidden">
<div class="t" style="left:0;top:2.63px;font-size:15.2px;line-height:17px;color:#3e4350">My Method</div></div>
<svg style="left:1087.6px;top:324.17px" width="13.4" height="7" viewBox="0 0 13.4 7"><path d="M.5 .5 L6.7 6.4 L12.9 .5" fill="none" stroke="#8a8f9c" stroke-width="1.2"/></svg>
<div class="t" style="left:1128.8px;top:320px;font-size:14.2px;line-height:16px;color:#3e4350;letter-spacing:-.15px;">Standard04</div>
<div class="cmb" style="left:1438px;top:312.77px;width:113.4px;height:29.2px;"></div>
<div class="b" style="left:1441px;top:319.17px;width:15.8px;height:16.4px;background:#7ae0d8;border-radius:3.5px;"></div>
<div class="t" style="left:1460px;top:320px;font-size:14.3px;line-height:16px;color:#3e4350;letter-spacing:0px;">Standard</div>
<svg style="left:1531.3px;top:324.17px" width="13.4" height="7" viewBox="0 0 13.4 7"><path d="M.5 .5 L6.7 6.4 L12.9 .5" fill="none" stroke="#8a8f9c" stroke-width="1.2"/></svg>
<div class="t" style="left:1607.2px;top:320px;font-size:14.2px;line-height:16px;color:#3e4350;transform-origin:100% 0;transform:translateX(-100%);">4</div>
<div class="t" style="left:1690.2px;top:320px;font-size:14.2px;line-height:16px;color:#3e4350;transform-origin:100% 0;transform:translateX(-100%);">1</div>
<div class="chk" style="left:1748px;top:318.97px;width:16.8px;height:16.6px;"></div>
<div class="t" style="left:1876.6px;top:320px;font-size:14.2px;line-height:16px;color:#3e4350;transform-origin:100% 0;transform:translateX(-100%);">10</div>
<div class="offb" style="left:1899.2px;top:310.76px;width:91.2px;height:33.22px;"></div>
<div class="t" style="left:1944.3px;top:320px;font-size:13.8px;line-height:15px;color:#a9adb8;transform:translateX(-50%);letter-spacing:-.7px;">OFF</div>
<div class="b" style="left:568px;top:344.58px;width:1430px;height:34.42px;background:#f5f5f7;border-bottom:1px solid #ececf1;"></div>
<div class="b" style="left:608.5px;top:344.58px;width:1.1px;height:34.42px;background:#e7e7ec;"></div>
<div class="b" style="left:651.9px;top:344.58px;width:1.1px;height:34.42px;background:#e7e7ec;"></div>
<div class="b" style="left:779.9px;top:344.58px;width:1.1px;height:34.42px;background:#e7e7ec;"></div>
<div class="b" style="left:894.9px;top:344.58px;width:1.1px;height:34.42px;background:#e7e7ec;"></div>
<div class="b" style="left:1005.1px;top:344.58px;width:1.1px;height:34.42px;background:#e7e7ec;"></div>
<div class="b" style="left:1115.4px;top:344.58px;width:1.1px;height:34.42px;background:#e7e7ec;"></div>
<div class="b" style="left:1303.1px;top:344.58px;width:1.1px;height:34.42px;background:#e7e7ec;"></div>
<div class="b" style="left:1428px;top:344.58px;width:1.1px;height:34.42px;background:#e7e7ec;"></div>
<div class="b" style="left:1559.5px;top:344.58px;width:1.1px;height:34.42px;background:#e7e7ec;"></div>
<div class="b" style="left:1619.9px;top:344.58px;width:1.1px;height:34.42px;background:#e7e7ec;"></div>
<div class="b" style="left:1702.8px;top:344.58px;width:1.1px;height:34.42px;background:#e7e7ec;"></div>
<div class="b" style="left:1807.1px;top:344.58px;width:1.1px;height:34.42px;background:#e7e7ec;"></div>
<div class="b" style="left:1889.7px;top:344.58px;width:1.1px;height:34.42px;background:#e7e7ec;"></div>
<div class="t" style="left:626.2px;top:355px;font-size:14.2px;line-height:16px;color:#3e4350;transform:translateX(-50%);">5</div>
<div class="b" style="left:663px;top:347.89px;width:107.8px;height:27px;background:#e1e2e7;border-radius:5px;"></div>
<div class="t" style="left:714.6px;top:354px;font-size:14.2px;line-height:16px;color:#5b6271;transform:translateX(-50%);letter-spacing:.15px;">Completed</div>
<div class="t" style="left:793.8px;top:356px;font-size:14.2px;line-height:16px;color:#3e4350;letter-spacing:1.8px;">---</div>
<div class="t" style="left:908.8px;top:355px;font-size:14.2px;line-height:16px;color:#3e4350;">1:7</div>
<div class="cmb" style="left:1015px;top:347.19px;width:92.6px;height:29.2px;"></div>
<div class="b" style="left:1024.8px;top:350.79px;width:54.6px;height:22px;overflow:hidden">
<div class="t" style="left:0;top:3.21px;font-size:15.2px;line-height:17px;color:#3e4350">My Method</div></div>
<svg style="left:1087.6px;top:358.59px" width="13.4" height="7" viewBox="0 0 13.4 7"><path d="M.5 .5 L6.7 6.4 L12.9 .5" fill="none" stroke="#8a8f9c" stroke-width="1.2"/></svg>
<div class="t" style="left:1128.8px;top:355px;font-size:14.2px;line-height:16px;color:#3e4350;letter-spacing:-.15px;">Standard05</div>
<div class="cmb" style="left:1438px;top:347.19px;width:113.4px;height:29.2px;"></div>
<div class="b" style="left:1441px;top:353.59px;width:15.8px;height:16.4px;background:#7ae0d8;border-radius:3.5px;"></div>
<div class="t" style="left:1460px;top:355px;font-size:14.3px;line-height:16px;color:#3e4350;letter-spacing:0px;">Standard</div>
<svg style="left:1531.3px;top:358.59px" width="13.4" height="7" viewBox="0 0 13.4 7"><path d="M.5 .5 L6.7 6.4 L12.9 .5" fill="none" stroke="#8a8f9c" stroke-width="1.2"/></svg>
<div class="t" style="left:1607.2px;top:355px;font-size:14.2px;line-height:16px;color:#3e4350;transform-origin:100% 0;transform:translateX(-100%);">5</div>
<div class="t" style="left:1690.2px;top:355px;font-size:14.2px;line-height:16px;color:#3e4350;transform-origin:100% 0;transform:translateX(-100%);">1</div>
<div class="chk" style="left:1748px;top:353.39px;width:16.8px;height:16.6px;"></div>
<div class="t" style="left:1876.6px;top:355px;font-size:14.2px;line-height:16px;color:#3e4350;transform-origin:100% 0;transform:translateX(-100%);">10</div>
<div class="offb" style="left:1899.2px;top:345.18px;width:91.2px;height:33.22px;"></div>
<div class="t" style="left:1944.3px;top:355px;font-size:13.8px;line-height:15px;color:#a9adb8;transform:translateX(-50%);letter-spacing:-.7px;">OFF</div>
<div class="b" style="left:568px;top:379px;width:1430px;height:34.42px;background:#fafafb;border-bottom:1px solid #ececf1;"></div>
<div class="b" style="left:608.5px;top:379px;width:1.1px;height:34.42px;background:#e7e7ec;"></div>
<div class="b" style="left:651.9px;top:379px;width:1.1px;height:34.42px;background:#e7e7ec;"></div>
<div class="b" style="left:779.9px;top:379px;width:1.1px;height:34.42px;background:#e7e7ec;"></div>
<div class="b" style="left:894.9px;top:379px;width:1.1px;height:34.42px;background:#e7e7ec;"></div>
<div class="b" style="left:1005.1px;top:379px;width:1.1px;height:34.42px;background:#e7e7ec;"></div>
<div class="b" style="left:1115.4px;top:379px;width:1.1px;height:34.42px;background:#e7e7ec;"></div>
<div class="b" style="left:1303.1px;top:379px;width:1.1px;height:34.42px;background:#e7e7ec;"></div>
<div class="b" style="left:1428px;top:379px;width:1.1px;height:34.42px;background:#e7e7ec;"></div>
<div class="b" style="left:1559.5px;top:379px;width:1.1px;height:34.42px;background:#e7e7ec;"></div>
<div class="b" style="left:1619.9px;top:379px;width:1.1px;height:34.42px;background:#e7e7ec;"></div>
<div class="b" style="left:1702.8px;top:379px;width:1.1px;height:34.42px;background:#e7e7ec;"></div>
<div class="b" style="left:1807.1px;top:379px;width:1.1px;height:34.42px;background:#e7e7ec;"></div>
<div class="b" style="left:1889.7px;top:379px;width:1.1px;height:34.42px;background:#e7e7ec;"></div>
<div class="t" style="left:626.2px;top:389px;font-size:14.2px;line-height:16px;color:#3e4350;transform:translateX(-50%);">6</div>
<div class="b" style="left:663px;top:382.31px;width:107.8px;height:27px;background:#e1e2e7;border-radius:5px;"></div>
<div class="t" style="left:714.6px;top:388px;font-size:14.2px;line-height:16px;color:#5b6271;transform:translateX(-50%);letter-spacing:.15px;">Completed</div>
<div class="t" style="left:793.8px;top:390px;font-size:14.2px;line-height:16px;color:#3e4350;letter-spacing:1.8px;">---</div>
<div class="t" style="left:908.8px;top:389px;font-size:14.2px;line-height:16px;color:#3e4350;">1:6</div>
<div class="cmb" style="left:1015px;top:381.61px;width:92.6px;height:29.2px;"></div>
<div class="b" style="left:1024.8px;top:385.21px;width:54.6px;height:22px;overflow:hidden">
<div class="t" style="left:0;top:2.79px;font-size:15.2px;line-height:17px;color:#3e4350">My Method</div></div>
<svg style="left:1087.6px;top:393.01px" width="13.4" height="7" viewBox="0 0 13.4 7"><path d="M.5 .5 L6.7 6.4 L12.9 .5" fill="none" stroke="#8a8f9c" stroke-width="1.2"/></svg>
<div class="t" style="left:1128.8px;top:389px;font-size:14.2px;line-height:16px;color:#3e4350;letter-spacing:-.15px;">Sample01</div>
<div class="cmb" style="left:1438px;top:381.61px;width:113.4px;height:29.2px;"></div>
<div class="b" style="left:1441px;top:388.01px;width:15.8px;height:16.4px;background:#f1b9fb;border-radius:3.5px;"></div>
<div class="t" style="left:1460px;top:389px;font-size:14.3px;line-height:16px;color:#3e4350;letter-spacing:.3px;">Unkown</div>
<svg style="left:1531.3px;top:393.01px" width="13.4" height="7" viewBox="0 0 13.4 7"><path d="M.5 .5 L6.7 6.4 L12.9 .5" fill="none" stroke="#8a8f9c" stroke-width="1.2"/></svg>
<div class="t" style="left:1607.2px;top:389px;font-size:14.2px;line-height:16px;color:#3e4350;transform-origin:100% 0;transform:translateX(-100%);">-</div>
<div class="t" style="left:1690.2px;top:389px;font-size:14.2px;line-height:16px;color:#3e4350;transform-origin:100% 0;transform:translateX(-100%);">1</div>
<div class="chk" style="left:1748px;top:387.81px;width:16.8px;height:16.6px;"></div>
<div class="t" style="left:1876.6px;top:389px;font-size:14.2px;line-height:16px;color:#3e4350;transform-origin:100% 0;transform:translateX(-100%);">10</div>
<div class="offb" style="left:1899.2px;top:379.6px;width:91.2px;height:33.22px;"></div>
<div class="t" style="left:1944.3px;top:389px;font-size:13.8px;line-height:15px;color:#a9adb8;transform:translateX(-50%);letter-spacing:-.7px;">OFF</div>
<div class="b" style="left:568px;top:413.42px;width:1430px;height:34.42px;background:#f5f5f7;border-bottom:1px solid #ececf1;"></div>
<div class="b" style="left:608.5px;top:413.42px;width:1.1px;height:34.42px;background:#e7e7ec;"></div>
<div class="b" style="left:651.9px;top:413.42px;width:1.1px;height:34.42px;background:#e7e7ec;"></div>
<div class="b" style="left:779.9px;top:413.42px;width:1.1px;height:34.42px;background:#e7e7ec;"></div>
<div class="b" style="left:894.9px;top:413.42px;width:1.1px;height:34.42px;background:#e7e7ec;"></div>
<div class="b" style="left:1005.1px;top:413.42px;width:1.1px;height:34.42px;background:#e7e7ec;"></div>
<div class="b" style="left:1115.4px;top:413.42px;width:1.1px;height:34.42px;background:#e7e7ec;"></div>
<div class="b" style="left:1303.1px;top:413.42px;width:1.1px;height:34.42px;background:#e7e7ec;"></div>
<div class="b" style="left:1428px;top:413.42px;width:1.1px;height:34.42px;background:#e7e7ec;"></div>
<div class="b" style="left:1559.5px;top:413.42px;width:1.1px;height:34.42px;background:#e7e7ec;"></div>
<div class="b" style="left:1619.9px;top:413.42px;width:1.1px;height:34.42px;background:#e7e7ec;"></div>
<div class="b" style="left:1702.8px;top:413.42px;width:1.1px;height:34.42px;background:#e7e7ec;"></div>
<div class="b" style="left:1807.1px;top:413.42px;width:1.1px;height:34.42px;background:#e7e7ec;"></div>
<div class="b" style="left:1889.7px;top:413.42px;width:1.1px;height:34.42px;background:#e7e7ec;"></div>
<div class="t" style="left:626.2px;top:423px;font-size:14.2px;line-height:16px;color:#3e4350;transform:translateX(-50%);">7</div>
<div class="b" style="left:663px;top:416.73px;width:107.8px;height:27px;background:#e1e2e7;border-radius:5px;"></div>
<div class="t" style="left:714.6px;top:422px;font-size:14.2px;line-height:16px;color:#5b6271;transform:translateX(-50%);letter-spacing:.15px;">Completed</div>
<div class="t" style="left:793.8px;top:424px;font-size:14.2px;line-height:16px;color:#3e4350;letter-spacing:1.8px;">---</div>
<div class="t" style="left:908.8px;top:423px;font-size:14.2px;line-height:16px;color:#3e4350;">1:7</div>
<div class="cmb" style="left:1015px;top:416.03px;width:92.6px;height:29.2px;"></div>
<div class="b" style="left:1024.8px;top:419.63px;width:54.6px;height:22px;overflow:hidden">
<div class="t" style="left:0;top:2.37px;font-size:15.2px;line-height:17px;color:#3e4350">My Method</div></div>
<svg style="left:1087.6px;top:427.43px" width="13.4" height="7" viewBox="0 0 13.4 7"><path d="M.5 .5 L6.7 6.4 L12.9 .5" fill="none" stroke="#8a8f9c" stroke-width="1.2"/></svg>
<div class="t" style="left:1128.8px;top:423px;font-size:14.2px;line-height:16px;color:#3e4350;letter-spacing:-.15px;">Sample02</div>
<div class="cmb" style="left:1438px;top:416.03px;width:113.4px;height:29.2px;"></div>
<div class="b" style="left:1441px;top:422.43px;width:15.8px;height:16.4px;background:#f1b9fb;border-radius:3.5px;"></div>
<div class="t" style="left:1460px;top:423px;font-size:14.3px;line-height:16px;color:#3e4350;letter-spacing:.3px;">Unkown</div>
<svg style="left:1531.3px;top:427.43px" width="13.4" height="7" viewBox="0 0 13.4 7"><path d="M.5 .5 L6.7 6.4 L12.9 .5" fill="none" stroke="#8a8f9c" stroke-width="1.2"/></svg>
<div class="t" style="left:1607.2px;top:423px;font-size:14.2px;line-height:16px;color:#3e4350;transform-origin:100% 0;transform:translateX(-100%);">-</div>
<div class="t" style="left:1690.2px;top:423px;font-size:14.2px;line-height:16px;color:#3e4350;transform-origin:100% 0;transform:translateX(-100%);">1</div>
<div class="chk" style="left:1748px;top:422.23px;width:16.8px;height:16.6px;"></div>
<div class="t" style="left:1876.6px;top:423px;font-size:14.2px;line-height:16px;color:#3e4350;transform-origin:100% 0;transform:translateX(-100%);">10</div>
<div class="offb" style="left:1899.2px;top:414.02px;width:91.2px;height:33.22px;"></div>
<div class="t" style="left:1944.3px;top:423px;font-size:13.8px;line-height:15px;color:#a9adb8;transform:translateX(-50%);letter-spacing:-.7px;">OFF</div>
<div class="b" style="left:568px;top:447.84px;width:1430px;height:34.42px;background:#fafafb;border-bottom:1px solid #ececf1;"></div>
<div class="b" style="left:608.5px;top:447.84px;width:1.1px;height:34.42px;background:#e7e7ec;"></div>
<div class="b" style="left:651.9px;top:447.84px;width:1.1px;height:34.42px;background:#e7e7ec;"></div>
<div class="b" style="left:779.9px;top:447.84px;width:1.1px;height:34.42px;background:#e7e7ec;"></div>
<div class="b" style="left:894.9px;top:447.84px;width:1.1px;height:34.42px;background:#e7e7ec;"></div>
<div class="b" style="left:1005.1px;top:447.84px;width:1.1px;height:34.42px;background:#e7e7ec;"></div>
<div class="b" style="left:1115.4px;top:447.84px;width:1.1px;height:34.42px;background:#e7e7ec;"></div>
<div class="b" style="left:1303.1px;top:447.84px;width:1.1px;height:34.42px;background:#e7e7ec;"></div>
<div class="b" style="left:1428px;top:447.84px;width:1.1px;height:34.42px;background:#e7e7ec;"></div>
<div class="b" style="left:1559.5px;top:447.84px;width:1.1px;height:34.42px;background:#e7e7ec;"></div>
<div class="b" style="left:1619.9px;top:447.84px;width:1.1px;height:34.42px;background:#e7e7ec;"></div>
<div class="b" style="left:1702.8px;top:447.84px;width:1.1px;height:34.42px;background:#e7e7ec;"></div>
<div class="b" style="left:1807.1px;top:447.84px;width:1.1px;height:34.42px;background:#e7e7ec;"></div>
<div class="b" style="left:1889.7px;top:447.84px;width:1.1px;height:34.42px;background:#e7e7ec;"></div>
<div class="t" style="left:626.2px;top:458px;font-size:14.2px;line-height:16px;color:#3e4350;transform:translateX(-50%);">8</div>
<div class="b" style="left:663px;top:451.15px;width:107.8px;height:27px;background:#2f7be5;border-radius:5px;"></div>
<div class="t" style="left:714.6px;top:457px;font-size:14.2px;line-height:16px;color:#ffffff;transform:translateX(-50%);letter-spacing:.15px;-webkit-text-stroke:.35px #ffffff;">Running</div>
<div class="t" style="left:793.8px;top:459px;font-size:14.2px;line-height:16px;color:#3e4350;letter-spacing:1.8px;">---</div>
<div class="t" style="left:908.8px;top:458px;font-size:14.2px;line-height:16px;color:#3e4350;">1:8</div>
<div class="cmb" style="left:1015px;top:450.45px;width:92.6px;height:29.2px;"></div>
<div class="b" style="left:1024.8px;top:454.05px;width:54.6px;height:22px;overflow:hidden">
<div class="t" style="left:0;top:2.95px;font-size:15.2px;line-height:17px;color:#3e4350">My Method</div></div>
<svg style="left:1087.6px;top:461.85px" width="13.4" height="7" viewBox="0 0 13.4 7"><path d="M.5 .5 L6.7 6.4 L12.9 .5" fill="none" stroke="#8a8f9c" stroke-width="1.2"/></svg>
<div class="t" style="left:1128.8px;top:458px;font-size:14.2px;line-height:16px;color:#3e4350;letter-spacing:-.15px;">Sample03</div>
<div class="cmb" style="left:1438px;top:450.45px;width:113.4px;height:29.2px;"></div>
<div class="b" style="left:1441px;top:456.85px;width:15.8px;height:16.4px;background:#f1b9fb;border-radius:3.5px;"></div>
<div class="t" style="left:1460px;top:458px;font-size:14.3px;line-height:16px;color:#3e4350;letter-spacing:.3px;">Unkown</div>
<svg style="left:1531.3px;top:461.85px" width="13.4" height="7" viewBox="0 0 13.4 7"><path d="M.5 .5 L6.7 6.4 L12.9 .5" fill="none" stroke="#8a8f9c" stroke-width="1.2"/></svg>
<div class="t" style="left:1607.2px;top:458px;font-size:14.2px;line-height:16px;color:#3e4350;transform-origin:100% 0;transform:translateX(-100%);">-</div>
<div class="t" style="left:1690.2px;top:458px;font-size:14.2px;line-height:16px;color:#3e4350;transform-origin:100% 0;transform:translateX(-100%);">1</div>
<div class="chk" style="left:1748px;top:456.65px;width:16.8px;height:16.6px;"></div>
<div class="t" style="left:1876.6px;top:458px;font-size:14.2px;line-height:16px;color:#3e4350;transform-origin:100% 0;transform:translateX(-100%);">10</div>
<div class="offb" style="left:1899.2px;top:448.44px;width:91.2px;height:33.22px;"></div>
<div class="t" style="left:1944.3px;top:458px;font-size:13.8px;line-height:15px;color:#a9adb8;transform:translateX(-50%);letter-spacing:-.7px;">OFF</div>
<svg style="left:581.4px;top:457.25px" width="16.8" height="19.4" viewBox="0 0 16.8 19.4"><path d="M0 0 L16.8 9.7 L0 19.4 Z" fill="#2f7be5"/></svg>
<div class="b" style="left:568px;top:482.26px;width:1430px;height:34.42px;background:#f5f5f7;border-bottom:1px solid #ececf1;"></div>
<div class="b" style="left:608.5px;top:482.26px;width:1.1px;height:34.42px;background:#e7e7ec;"></div>
<div class="b" style="left:651.9px;top:482.26px;width:1.1px;height:34.42px;background:#e7e7ec;"></div>
<div class="b" style="left:779.9px;top:482.26px;width:1.1px;height:34.42px;background:#e7e7ec;"></div>
<div class="b" style="left:894.9px;top:482.26px;width:1.1px;height:34.42px;background:#e7e7ec;"></div>
<div class="b" style="left:1005.1px;top:482.26px;width:1.1px;height:34.42px;background:#e7e7ec;"></div>
<div class="b" style="left:1115.4px;top:482.26px;width:1.1px;height:34.42px;background:#e7e7ec;"></div>
<div class="b" style="left:1303.1px;top:482.26px;width:1.1px;height:34.42px;background:#e7e7ec;"></div>
<div class="b" style="left:1428px;top:482.26px;width:1.1px;height:34.42px;background:#e7e7ec;"></div>
<div class="b" style="left:1559.5px;top:482.26px;width:1.1px;height:34.42px;background:#e7e7ec;"></div>
<div class="b" style="left:1619.9px;top:482.26px;width:1.1px;height:34.42px;background:#e7e7ec;"></div>
<div class="b" style="left:1702.8px;top:482.26px;width:1.1px;height:34.42px;background:#e7e7ec;"></div>
<div class="b" style="left:1807.1px;top:482.26px;width:1.1px;height:34.42px;background:#e7e7ec;"></div>
<div class="b" style="left:1889.7px;top:482.26px;width:1.1px;height:34.42px;background:#e7e7ec;"></div>
<div class="t" style="left:626.2px;top:492px;font-size:14.2px;line-height:16px;color:#3e4350;transform:translateX(-50%);">9</div>
<div class="b" style="left:663px;top:485.57px;width:107.8px;height:27px;background:#d2f5e6;border-radius:5px;"></div>
<div class="t" style="left:715.8px;top:491px;font-size:14.2px;line-height:16px;color:#11a05c;transform:translateX(-50%);letter-spacing:.15px;-webkit-text-stroke:.35px #11a05c;">Ready</div>
<div class="t" style="left:793.8px;top:493px;font-size:14.2px;line-height:16px;color:#3e4350;letter-spacing:1.8px;">---</div>
<div class="t" style="left:908.8px;top:492px;font-size:14.2px;line-height:16px;color:#3e4350;">1:9</div>
<div class="cmb" style="left:1015px;top:484.87px;width:92.6px;height:29.2px;"></div>
<div class="b" style="left:1024.8px;top:488.47px;width:54.6px;height:22px;overflow:hidden">
<div class="t" style="left:0;top:2.53px;font-size:15.2px;line-height:17px;color:#3e4350">My Method</div></div>
<svg style="left:1087.6px;top:496.27px" width="13.4" height="7" viewBox="0 0 13.4 7"><path d="M.5 .5 L6.7 6.4 L12.9 .5" fill="none" stroke="#8a8f9c" stroke-width="1.2"/></svg>
<div class="t" style="left:1128.8px;top:492px;font-size:14.2px;line-height:16px;color:#3e4350;letter-spacing:-.15px;">Sample04</div>
<div class="cmb" style="left:1438px;top:484.87px;width:113.4px;height:29.2px;"></div>
<div class="b" style="left:1441px;top:491.27px;width:15.8px;height:16.4px;background:#f1b9fb;border-radius:3.5px;"></div>
<div class="t" style="left:1460px;top:492px;font-size:14.3px;line-height:16px;color:#3e4350;letter-spacing:.3px;">Unkown</div>
<svg style="left:1531.3px;top:496.27px" width="13.4" height="7" viewBox="0 0 13.4 7"><path d="M.5 .5 L6.7 6.4 L12.9 .5" fill="none" stroke="#8a8f9c" stroke-width="1.2"/></svg>
<div class="t" style="left:1607.2px;top:492px;font-size:14.2px;line-height:16px;color:#3e4350;transform-origin:100% 0;transform:translateX(-100%);">-</div>
<div class="t" style="left:1690.2px;top:492px;font-size:14.2px;line-height:16px;color:#3e4350;transform-origin:100% 0;transform:translateX(-100%);">1</div>
<div class="chk" style="left:1748px;top:491.07px;width:16.8px;height:16.6px;"></div>
<div class="t" style="left:1876.6px;top:492px;font-size:14.2px;line-height:16px;color:#3e4350;transform-origin:100% 0;transform:translateX(-100%);">10</div>
<div class="offb" style="left:1899.2px;top:482.86px;width:91.2px;height:33.22px;"></div>
<div class="t" style="left:1944.3px;top:492px;font-size:13.8px;line-height:15px;color:#222428;transform:translateX(-50%);letter-spacing:-.7px;">OFF</div>
<!-- direct control -->
<div class="t" style="left:29.8px;top:691px;font-size:16.4px;line-height:18px;color:#111111;-webkit-text-stroke:.7px #111;letter-spacing:0.48px;">Direct Control</div>
<div class="btn" style="left:928.4px;top:680px;width:158.8px;height:33.4px;"></div>
<svg style="left:940px;top:686px" width="22" height="22" viewBox="0 0 22 22"><polygon points="21.55,9.19 21.55,12.81 19.02,13.13 18.18,15.16 19.74,17.18 17.18,19.74 15.16,18.18 13.14,19.02 12.81,21.55 9.19,21.55 8.87,19.02 6.84,18.18 4.82,19.74 2.26,17.18 3.82,15.16 2.98,13.14 0.45,12.81 0.45,9.19 2.98,8.87 3.82,6.84 2.26,4.82 4.82,2.26 6.84,3.82 8.86,2.98 9.19,0.45 12.81,0.45 13.13,2.98 15.16,3.82 17.18,2.26 19.74,4.82 18.18,6.84 19.02,8.86" fill="#e9ba50" stroke="#e9ba50" stroke-width="1" stroke-linejoin="round"/><circle cx="11" cy="11" r="4" fill="none" stroke="#c2912f" stroke-width="1.1"/><circle cx="11" cy="11" r="1.3" fill="#c2912f"/></svg>
<div class="t" style="left:970.6px;top:689px;font-size:14.2px;line-height:16px;color:#454a57;letter-spacing:-0.15px;">Display Settings</div>
<div class="b" style="left:16.6px;top:725.8px;width:266.6px;height:339px;background:#f3f4f7;"></div>
<div class="b" style="left:287.6px;top:725.8px;width:266.6px;height:339px;background:#f3f4f7;"></div>
<div class="b" style="left:558.2px;top:725.8px;width:266.6px;height:339px;background:#f3f4f7;"></div>
<div class="b" style="left:829.3px;top:725.8px;width:266.6px;height:339px;background:#f3f4f7;"></div>
<div class="t" style="left:123.4px;top:738px;font-size:18.3px;line-height:21px;color:#111111;-webkit-text-stroke:.75px #111;letter-spacing:0.79px;">Pump</div>
<div class="t" style="left:364px;top:738px;font-size:18.3px;line-height:21px;color:#111111;-webkit-text-stroke:.75px #111;letter-spacing:0.81px;">Autosampler</div>
<div class="t" style="left:632px;top:738px;font-size:18.3px;line-height:21px;color:#111111;-webkit-text-stroke:.75px #111;letter-spacing:0.48px;">Column Oven</div>
<div class="t" style="left:923.6px;top:738px;font-size:18.3px;line-height:21px;color:#111111;-webkit-text-stroke:.75px #111;letter-spacing:0.86px;">Detector</div>
<svg style="left:202px;top:786.1px" width="161.7" height="8.3" viewBox="0 0 161.7 8.3"><rect width="161.7" height="8.3" fill="#90c5f6"/><clipPath id="cp202"><rect width="161.7" height="8.3"/></clipPath><g clip-path="url(#cp202)" fill="#6eaad9"><path d="M6 8.3 L22 0 L55 0 L45 8.3 Z"/><path d="M82 8.3 L98 0 L131 0 L121 8.3 Z"/></g></svg>
<svg style="left:467px;top:785.2px" width="161" height="8.3" viewBox="0 0 161 8.3"><rect width="161" height="8.3" fill="#90c5f6"/><clipPath id="cp467"><rect width="161" height="8.3"/></clipPath><g clip-path="url(#cp467)" fill="#6eaad9"><path d="M6 8.3 L22 0 L55 0 L45 8.3 Z"/><path d="M82 8.3 L98 0 L131 0 L121 8.3 Z"/></g></svg>
<svg style="left:738.6px;top:786.1px" width="161.4" height="8.3" viewBox="0 0 161.4 8.3"><rect width="161.4" height="8.3" fill="#90c5f6"/><clipPath id="cp738"><rect width="161.4" height="8.3"/></clipPath><g clip-path="url(#cp738)" fill="#6eaad9"><path d="M6 8.3 L22 0 L55 0 L45 8.3 Z"/><path d="M82 8.3 L98 0 L131 0 L121 8.3 Z"/></g></svg>
<svg style="left:120.8px;top:779px" width="59" height="36" viewBox="0 0 59 36"><rect x="0" y="8.6" width="6" height="18" fill="#8d94ae"/><rect x="5.2" y="0" width="9.6" height="35.2" fill="#aeb2c5"/><rect x="19.6" y="0" width="38.6" height="35.2" rx="2" fill="#aeb2c5"/><rect x="20.4" y="3" width="34.8" height="29.2" fill="#525b75"/><rect x="14.6" y="8.6" width="35.4" height="18" fill="#8d94ae"/></svg>
<svg style="left:392px;top:769px" width="59" height="56" viewBox="0 0 59 56"><rect x="0" y="1.4" width="58" height="4.2" fill="#a9adc0"/><rect x="37.6" y="0.4" width="12" height="7" rx=".8" fill="#6b7391"/><path d="M41.6 7.4 H46 V18 L41.6 14 Z" fill="#6b7391"/><path d="M31 28 L43.8 20.6 L56 28 V55.4 H31 Z" fill="#aeb2c5"/><rect x="31" y="35.2" width="25" height="1.8" fill="#8d94ae"/><rect x="3" y="24.6" width="9.6" height="4" fill="#3d8fa0"/><rect x="12.6" y="24.6" width="14" height="4" fill="#8d94ae"/><path d="M.6 33 L3.4 28.6 H12 V55.4 H.6 Z" fill="#7fe3e2"/><path d="M12 28.6 H25.6 L28 33 V55.4 H12 Z" fill="#d3fafa"/><rect x="3" y="40" width="7" height="13.4" fill="#05a4a9"/><rect x="12.4" y="40" width="14.4" height="13.4" fill="#00bfc0"/></svg>
<div class="b" style="left:671px;top:790.4px;width:41px;height:12px;background:#e8a31b;"></div>
<div class="b" style="left:662.4px;top:788.4px;width:9.2px;height:16.6px;background:#f4c430;border-radius:1px;"></div>
<div class="b" style="left:711.6px;top:788.4px;width:9.4px;height:16.6px;background:#f4c430;border-radius:1px;"></div>
<div class="b" style="left:933.4px;top:767.5px;width:58.3px;height:57.9px;background:#cfe9ff;"></div>
<svg style="left:933px;top:767px" width="60" height="60" viewBox="933 767 60 60"><path d="M937.6 811.2 H952 L958 793.6 L962.4 806.6 L969.5 784.2 L977.8 811.2 H985.4" fill="none" stroke="#2f8cff" stroke-width="3.7" stroke-linejoin="round"/></svg>
<div class="btn" style="left:67.1px;top:834.4px;width:165.9px;height:33px;"></div>
<div class="sel" style="left:67.1px;top:834.4px;width:83.2px;height:33px;border-radius:5px 0 0 5px;"></div>
<div class="t" style="left:95.2px;top:843px;font-size:15.3px;line-height:17px;color:#2f7be5;transform-origin:0 0;transform:scaleX(0.92);letter-spacing:-1.34px;">OFF</div>
<div class="t" style="left:180.4px;top:843px;font-size:15.3px;line-height:17px;color:#4a4f5d;transform-origin:0 0;transform:scaleX(0.92);letter-spacing:0.6px;">ON</div>
<div class="btn" style="left:590px;top:834.4px;width:99.6px;height:33px;"></div>
<div class="sel" style="left:638.8px;top:834.4px;width:50.8px;height:33px;border-radius:0 5px 5px 0;"></div>
<div class="t" style="left:601.4px;top:843px;font-size:15.3px;line-height:17px;color:#4a4f5d;transform-origin:0 0;transform:scaleX(0.92);letter-spacing:-1.55px;">OFF</div>
<div class="t" style="left:653.6px;top:843px;font-size:15.3px;line-height:17px;color:#2f7be5;transform-origin:0 0;transform:scaleX(0.92);letter-spacing:0.82px;">ON</div>
<div class="btn" style="left:715.6px;top:834.4px;width:102.8px;height:33px;"></div>
<div class="sel" style="left:715.6px;top:834.4px;width:50.8px;height:33px;border-radius:5px 0 0 5px;"></div>
<div class="t" style="left:727.6px;top:843px;font-size:15.3px;line-height:17px;color:#2f7be5;transform-origin:0 0;transform:scaleX(0.92);letter-spacing:-1.34px;">OFF</div>
<div class="t" style="left:779.2px;top:843px;font-size:15.3px;line-height:17px;color:#4a4f5d;transform-origin:0 0;transform:scaleX(0.92);letter-spacing:0.6px;">ON</div>
<div class="b" style="left:815px;top:832px;width:5px;height:38px;background:#f3f4f7;"></div>
<div class="btn" style="left:325.6px;top:834.4px;width:90.8px;height:33px;"></div>
<div class="t" style="left:349.8px;top:843px;font-size:17px;line-height:19px;color:#4a4f5d;letter-spacing:-0.89px;">Purge</div>
<div class="btn" style="left:425.6px;top:834.4px;width:90.8px;height:33px;"></div>
<div class="t" style="left:451.8px;top:843px;font-size:17px;line-height:19px;color:#4a4f5d;letter-spacing:-1.23px;">Rinse</div>
<div class="btn" style="left:846.8px;top:834.4px;width:112.8px;height:33px;"></div>
<div class="t" style="left:868px;top:843px;font-size:17px;line-height:19px;color:#4a4f5d;letter-spacing:-0.87px;">CDD Zero</div>
<div class="btn" style="left:965.4px;top:834.4px;width:113px;height:33px;"></div>
<div class="t" style="left:992.2px;top:843px;font-size:17px;line-height:19px;color:#4a4f5d;letter-spacing:-0.78px;">UV Zero</div>
<div class="b" style="left:25px;top:875.6px;width:250px;height:1.2px;background:#e3e5ea;"></div>
<div class="b" style="left:296px;top:875.6px;width:250px;height:1.2px;background:#e3e5ea;"></div>
<div class="b" style="left:567px;top:875.6px;width:249.5px;height:1.2px;background:#e3e5ea;"></div>
<div class="b" style="left:837.6px;top:875.6px;width:249.8px;height:1.2px;background:#e3e5ea;"></div>
<div class="t" style="left:26px;top:896px;font-size:12.6px;line-height:14px;color:#1c1e24;letter-spacing:-0.18px;">A Flow</div>
<div class="t" style="left:129.4px;top:896.6px;font-size:12.6px;line-height:14px;color:#1c1e24;transform:translateX(-50%);">:</div>
<div class="t" style="left:172.3px;top:894.4px;font-size:13.9px;line-height:16px;color:#1c1e24;transform-origin:100% 0;transform:translateX(-100%);-webkit-text-stroke:.3px #1c1e24;">0.8</div>
<div class="t" style="left:181.2px;top:896px;font-size:12.6px;line-height:14px;color:#1c1e24;">mL/mi</div>
<svg style="left:226px;top:897.4px" width="12" height="11" viewBox="0 0 12 11"><path d="M8.6 .4 L11.4 3 L4 9.6 L.6 10.6 L1.6 7 Z" fill="#9096ab"/><path d="M7.6 1.6 L10.2 4.2" stroke="#f3f4f7" stroke-width=".7"/></svg>
<div class="b" style="left:24px;top:917px;width:232.2px;height:2px;background:#e2e4ea;"></div>
<div class="t" style="left:26px;top:934px;font-size:12.6px;line-height:14px;color:#1c1e24;letter-spacing:-0.51px;">B Flow</div>
<div class="t" style="left:129.4px;top:934.6px;font-size:12.6px;line-height:14px;color:#1c1e24;transform:translateX(-50%);">:</div>
<div class="t" style="left:172.3px;top:932.4px;font-size:13.9px;line-height:16px;color:#1c1e24;transform-origin:100% 0;transform:translateX(-100%);-webkit-text-stroke:.3px #1c1e24;">1.0</div>
<div class="t" style="left:181.2px;top:934px;font-size:12.6px;line-height:14px;color:#1c1e24;">mL/mi</div>
<svg style="left:226px;top:935.4px" width="12" height="11" viewBox="0 0 12 11"><path d="M8.6 .4 L11.4 3 L4 9.6 L.6 10.6 L1.6 7 Z" fill="#9096ab"/><path d="M7.6 1.6 L10.2 4.2" stroke="#f3f4f7" stroke-width=".7"/></svg>
<div class="b" style="left:24px;top:954px;width:232.2px;height:2px;background:#e2e4ea;"></div>
<div class="t" style="left:26px;top:971px;font-size:12.6px;line-height:14px;color:#1c1e24;letter-spacing:-0.46px;">A Pressure</div>
<div class="t" style="left:129.4px;top:971.6px;font-size:12.6px;line-height:14px;color:#1c1e24;transform:translateX(-50%);">:</div>
<div class="t" style="left:172.3px;top:969.4px;font-size:13.9px;line-height:16px;color:#1c1e24;transform-origin:100% 0;transform:translateX(-100%);-webkit-text-stroke:.3px #1c1e24;">10.4</div>
<div class="t" style="left:181.2px;top:971px;font-size:12.6px;line-height:14px;color:#1c1e24;">MPa</div>
<div class="b" style="left:24px;top:992px;width:232.2px;height:2px;background:#e2e4ea;"></div>
<div class="t" style="left:26px;top:1009px;font-size:12.6px;line-height:14px;color:#1c1e24;letter-spacing:-0.66px;">B Pressure</div>
<div class="t" style="left:129.4px;top:1009.6px;font-size:12.6px;line-height:14px;color:#1c1e24;transform:translateX(-50%);">:</div>
<div class="t" style="left:172.3px;top:1007.4px;font-size:13.9px;line-height:16px;color:#1c1e24;transform-origin:100% 0;transform:translateX(-100%);-webkit-text-stroke:.3px #1c1e24;">3.9</div>
<div class="t" style="left:181.2px;top:1009px;font-size:12.6px;line-height:14px;color:#1c1e24;">MPa</div>
<div class="b" style="left:24px;top:1029px;width:232.2px;height:2px;background:#e2e4ea;"></div>
<div class="t" style="left:296.2px;top:896px;font-size:12.6px;line-height:14px;color:#1c1e24;letter-spacing:-.1px;">Vial Number</div>
<div class="t" style="left:386.2px;top:896.6px;font-size:12.6px;line-height:14px;color:#1c1e24;transform:translateX(-50%);">:</div>
<div class="t" style="left:405.4px;top:894.4px;font-size:13.9px;line-height:16px;color:#1c1e24;-webkit-text-stroke:.3px #1c1e24;">1:15</div>
<div class="b" style="left:295px;top:917px;width:231.6px;height:2px;background:#e2e4ea;"></div>
<div class="t" style="left:296.2px;top:934px;font-size:12.6px;line-height:14px;color:#1c1e24;letter-spacing:-.1px;">Inj. Vol.</div>
<div class="t" style="left:386.2px;top:934.6px;font-size:12.6px;line-height:14px;color:#1c1e24;transform:translateX(-50%);">:</div>
<div class="t" style="left:405.4px;top:932.4px;font-size:13.9px;line-height:16px;color:#1c1e24;-webkit-text-stroke:.3px #1c1e24;">10.0</div>
<div class="t" style="left:438.6px;top:934px;font-size:12.6px;line-height:14px;color:#1c1e24;">uL</div>
<div class="b" style="left:295px;top:954px;width:231.6px;height:2px;background:#e2e4ea;"></div>
<div class="t" style="left:568px;top:896px;font-size:12.6px;line-height:14px;color:#1c1e24;letter-spacing:-0.25px;">A Temp</div>
<div class="t" style="left:643.8px;top:896.6px;font-size:12.6px;line-height:14px;color:#1c1e24;transform:translateX(-50%);">:</div>
<div class="t" style="left:659.2px;top:894.4px;font-size:13.9px;line-height:16px;color:#1c1e24;-webkit-text-stroke:.3px #1c1e24;">49.9</div>
<div class="t" style="left:696.4px;top:894.4px;font-size:13.9px;line-height:16px;color:#5a5f6e;transform:translateX(-50%);">/</div>
<div class="t" style="left:705.2px;top:894.4px;font-size:13.9px;line-height:16px;color:#1c1e24;-webkit-text-stroke:.3px #1c1e24;">50</div>
<div class="t" style="left:748.2px;top:896px;font-size:12.2px;line-height:14px;color:#1c1e24;letter-spacing:-1.75px;">&#176;C</div>
<svg style="left:767.6px;top:897.4px" width="12" height="11" viewBox="0 0 12 11"><path d="M8.6 .4 L11.4 3 L4 9.6 L.6 10.6 L1.6 7 Z" fill="#9096ab"/><path d="M7.6 1.6 L10.2 4.2" stroke="#f3f4f7" stroke-width=".7"/></svg>
<div class="b" style="left:566px;top:917px;width:231.4px;height:2px;background:#e2e4ea;"></div>
<div class="t" style="left:568px;top:934px;font-size:12.6px;line-height:14px;color:#1c1e24;letter-spacing:-0.4px;">B Temp</div>
<div class="t" style="left:643.8px;top:934.6px;font-size:12.6px;line-height:14px;color:#1c1e24;transform:translateX(-50%);">:</div>
<div class="t" style="left:659.2px;top:932.4px;font-size:13.9px;line-height:16px;color:#1c1e24;-webkit-text-stroke:.3px #1c1e24;">39.9</div>
<div class="t" style="left:696.4px;top:932.4px;font-size:13.9px;line-height:16px;color:#5a5f6e;transform:translateX(-50%);">/</div>
<div class="t" style="left:705.2px;top:932.4px;font-size:13.9px;line-height:16px;color:#1c1e24;-webkit-text-stroke:.3px #1c1e24;">40</div>
<div class="t" style="left:748.2px;top:934px;font-size:12.2px;line-height:14px;color:#1c1e24;letter-spacing:-1.75px;">&#176;C</div>
<svg style="left:767.6px;top:935.4px" width="12" height="11" viewBox="0 0 12 11"><path d="M8.6 .4 L11.4 3 L4 9.6 L.6 10.6 L1.6 7 Z" fill="#9096ab"/><path d="M7.6 1.6 L10.2 4.2" stroke="#f3f4f7" stroke-width=".7"/></svg>
<div class="b" style="left:566px;top:954px;width:231.4px;height:2px;background:#e2e4ea;"></div>
<div class="t" style="left:568px;top:971px;font-size:12.6px;line-height:14px;color:#1c1e24;letter-spacing:-0.41px;">Room Temp</div>
<div class="t" style="left:643.8px;top:971.6px;font-size:12.6px;line-height:14px;color:#1c1e24;transform:translateX(-50%);">:</div>
<div class="t" style="left:659.2px;top:969.4px;font-size:13.9px;line-height:16px;color:#1c1e24;-webkit-text-stroke:.3px #1c1e24;">25.2</div>
<div class="t" style="left:696.4px;top:971px;font-size:12.2px;line-height:14px;color:#1c1e24;letter-spacing:-1.95px;">&#176;C</div>
<div class="b" style="left:566px;top:992px;width:231.4px;height:2px;background:#e2e4ea;"></div>
<div class="t" style="left:839.6px;top:886px;font-size:13px;line-height:15px;color:#1c1e24;-webkit-text-stroke:.55px #1c1e24;letter-spacing:-0.28px;">UV Detector</div>
<div class="t" style="left:839.6px;top:985px;font-size:13px;line-height:15px;color:#1c1e24;-webkit-text-stroke:.55px #1c1e24;letter-spacing:-0.32px;">CDD Detector</div>
<div class="t" style="left:838.6px;top:920px;font-size:12.6px;line-height:14px;color:#1c1e24;letter-spacing:-0.14px;">Wavelength</div>
<div class="t" style="left:940px;top:920.6px;font-size:12.6px;line-height:14px;color:#1c1e24;transform:translateX(-50%);">:</div>
<div class="t" style="left:959.2px;top:918.4px;font-size:13.9px;line-height:16px;color:#1c1e24;-webkit-text-stroke:.3px #1c1e24;">254</div>
<div class="t" style="left:991.6px;top:920px;font-size:12.2px;line-height:14px;color:#1c1e24;letter-spacing:-1.75px;">&#176;C</div>
<div class="b" style="left:836.6px;top:940px;width:232px;height:2px;background:#e2e4ea;"></div>
<div class="t" style="left:838.6px;top:958px;font-size:12.6px;line-height:14px;color:#1c1e24;letter-spacing:-0.41px;">Cell Temp</div>
<div class="t" style="left:940px;top:958.6px;font-size:12.6px;line-height:14px;color:#1c1e24;transform:translateX(-50%);">:</div>
<div class="t" style="left:955px;top:956.4px;font-size:13.9px;line-height:16px;color:#1c1e24;-webkit-text-stroke:.3px #1c1e24;">49.7</div>
<div class="t" style="left:991.6px;top:956.4px;font-size:13.9px;line-height:16px;color:#5a5f6e;transform:translateX(-50%);">/</div>
<div class="t" style="left:1001px;top:956.4px;font-size:13.9px;line-height:16px;color:#1c1e24;-webkit-text-stroke:.3px #1c1e24;">50</div>
<div class="t" style="left:1043.8px;top:958px;font-size:12.2px;line-height:14px;color:#1c1e24;letter-spacing:-1.95px;">&#176;C</div>
<div class="b" style="left:836.6px;top:978px;width:232px;height:2px;background:#e2e4ea;"></div>
<div class="t" style="left:838.6px;top:1019px;font-size:12.6px;line-height:14px;color:#1c1e24;letter-spacing:-0.53px;">Cell TempCh1</div>
<div class="t" style="left:940px;top:1019.6px;font-size:12.6px;line-height:14px;color:#1c1e24;transform:translateX(-50%);">:</div>
<div class="t" style="left:956px;top:1017.4px;font-size:13.9px;line-height:16px;color:#1c1e24;-webkit-text-stroke:.3px #1c1e24;">53</div>
<div class="t" style="left:991.6px;top:1017.4px;font-size:13.9px;line-height:16px;color:#5a5f6e;transform:translateX(-50%);">/</div>
<div class="t" style="left:1001px;top:1017.4px;font-size:13.9px;line-height:16px;color:#1c1e24;-webkit-text-stroke:.3px #1c1e24;">53</div>
<div class="t" style="left:1043.8px;top:1019px;font-size:12.2px;line-height:14px;color:#1c1e24;letter-spacing:-1.95px;">&#176;C</div>
<div class="b" style="left:836.6px;top:1039px;width:232px;height:2px;background:#e2e4ea;"></div>
<div class="b" style="left:1075.3px;top:885.3px;width:15.7px;height:164.4px;background:#f0f0f1;"></div>
<div class="b" style="left:1075.3px;top:903px;width:15.7px;height:77.5px;background:#cdcdcd;"></div>
<svg style="left:1078.6px;top:891px" width="9" height="6" viewBox="0 0 9 6"><path d="M.7 5.2 L4.5 1.2 L8.3 5.2" fill="none" stroke="#505050" stroke-width="1.5"/></svg>
<svg style="left:1078.6px;top:1037.4px" width="9" height="6" viewBox="0 0 9 6"><path d="M.7 .8 L4.5 4.8 L8.3 .8" fill="none" stroke="#505050" stroke-width="1.5"/></svg>
<!-- analysis chart -->
<div class="t" style="left:1123px;top:689px;font-size:16.4px;line-height:18px;color:#111111;-webkit-text-stroke:.7px #111;letter-spacing:-0.06px;">Analysis Result Chart :</div>
<div class="t" style="left:1304.4px;top:689px;font-size:15.4px;line-height:17px;color:#111111;-webkit-text-stroke:.4px #111;letter-spacing:-0.11px;">Testing02</div>
<div class="t" style="left:1827.6px;top:692px;font-size:14.3px;line-height:16px;color:#1c1e24;letter-spacing:-0.36px;">Graph:</div>
<div class="btn" style="left:1881px;top:685px;width:98.8px;height:33.6px;"></div>
<div class="sel" style="left:1881px;top:685px;width:49.4px;height:33.6px;border-radius:5px 0 0 5px;border-right:none;"></div>
<svg style="left:1896px;top:693.4px" width="21" height="17" viewBox="0 0 21 17"><rect x=".6" y=".6" width="19" height="15.8" fill="#f2f3f8" stroke="#9aa0b8" stroke-width="1.2"/><path d="M4.4 1 V16 M8.2 1 V16 M12 1 V16 M15.8 1 V16 M1 4.5 H19.6 M1 8.5 H19.6 M1 12.5 H19.6" stroke="#c3c7d6" stroke-width=".7"/></svg>
<svg style="left:1944.5px;top:693.4px" width="21" height="17" viewBox="0 0 21 17"><rect x=".6" y=".6" width="19.2" height="6.4" fill="#f2f3f8" stroke="#9aa0b8" stroke-width="1.2"/><rect x=".6" y="9.8" width="19.2" height="6.4" fill="#f2f3f8" stroke="#9aa0b8" stroke-width="1.2"/><path d="M4.4 1 V7 M8.2 1 V7 M12 1 V7 M15.8 1 V7 M1 3.8 H19.6 M4.4 10 V16 M8.2 10 V16 M12 10 V16 M15.8 10 V16 M1 13 H19.6" stroke="#c3c7d6" stroke-width=".7"/></svg>
<div class="b" style="left:1113.6px;top:727px;width:162.4px;height:337.8px;background:#f3f4f7;"></div>
<div class="t" style="left:1121.2px;top:746px;font-size:14.2px;line-height:16px;color:#1c1e24;letter-spacing:-0.41px;">Y Axis :</div>
<svg style="left:1144.4px;top:774.5px" width="20" height="20" viewBox="0 0 20 20"><circle cx="9.9" cy="9.9" r="9.8" fill="#2f7be5"/><circle cx="9.9" cy="9.9" r="3.5" fill="#fff"/></svg>
<div class="t" style="left:1171.6px;top:777.6px;font-size:14.3px;line-height:16px;color:#5a6272;">Area</div>
<svg style="left:1144.4px;top:801.6px" width="20" height="20" viewBox="0 0 20 20"><circle cx="9.9" cy="9.9" r="9.2" fill="#fff" stroke="#c9cbd4" stroke-width="1.2"/></svg>
<div class="t" style="left:1171.6px;top:804.6px;font-size:14.3px;line-height:16px;color:#5a6272;">Height</div>
<div class="t" style="left:1121.2px;top:830px;font-size:14.2px;line-height:16px;color:#1c1e24;letter-spacing:-0.19px;">Threshold :</div>
<svg style="left:1132px;top:869.6px" width="33" height="4" viewBox="0 0 33 4"><path d="M0 1.8 H32" stroke="#ff1010" stroke-width="2" stroke-dasharray="2 2"/></svg>
<div class="t" style="left:1173.6px;top:864px;font-size:13.4px;line-height:15px;color:#ff3a3a;">Over</div>
<div class="t" style="left:1121.2px;top:893px;font-size:14.2px;line-height:16px;color:#1c1e24;letter-spacing:-0.37px;">Sample Type :</div>
<svg style="left:1130px;top:925px" width="46" height="86" viewBox="1130 925 46 86"><path d="M1132 935.5 H1173.8" stroke="#333" stroke-width="1.1"/><path d="M1132 968.8 H1173.8" stroke="#333" stroke-width="1.1"/><path d="M1132 1002.3 H1173.8" stroke="#333" stroke-width="1.1"/><rect x="1148" y="930" width="11" height="11" fill="#7de0d8" stroke="#222" stroke-width="1.1"/><path d="M1153.5 961.4 L1160.2 968.8 L1153.5 976.2 L1146.8 968.8 Z" fill="#f1b9fb" stroke="#222" stroke-width="1.1"/><path d="M1153.5 995 L1160.2 1006.6 H1146.8 Z" fill="#ffee33" stroke="#222" stroke-width="1.1"/></svg>
<div class="t" style="left:1180.8px;top:928.2px;font-size:13.3px;line-height:15px;color:#1c1e24;">Standard</div>
<div class="t" style="left:1180.8px;top:961.5px;font-size:13.3px;line-height:15px;color:#1c1e24;">Unkown</div>
<div class="t" style="left:1180.8px;top:995px;font-size:13.3px;line-height:15px;color:#1c1e24;">Control</div>
<div class="b" style="left:1294.8px;top:729px;width:690.4px;height:335.8px;background:#edeef2;"></div>
<div class="b" style="left:1977.4px;top:795px;width:1px;height:257px;background:#f6f7f9;"></div>
<div class="t" style="left:1302.4px;top:753px;font-size:14.2px;line-height:16px;color:#1c1e24;letter-spacing:0.17px;">Compound :</div>
<div class="btn" style="left:1386px;top:747px;width:271.6px;height:32.2px;border-color:#e6e7ec;"></div>
<div class="t" style="left:1397.2px;top:754px;font-size:16.6px;line-height:19px;color:#15171c;letter-spacing:0.17px;">F (Det A - Ch1 - 1)</div>
<svg style="left:1635px;top:760.2px" width="14.2" height="7.6" viewBox="0 0 14.2 7.6"><path d="M.5 .5 L7.1 7 L13.7 .5" fill="none" stroke="#8a8f9c" stroke-width="1.2"/></svg>
<svg style="left:1300px;top:795px" width="685" height="262" viewBox="1300 795 685 262" font-family="Liberation Sans, sans-serif"><path d="M1379.26 806 V1019 M1408.51 806 V1019 M1437.77 806 V1019 M1467.03 806 V1019 M1496.29 806 V1019 M1525.54 806 V1019 M1554.8 806 V1019 M1584.06 806 V1019 M1613.31 806 V1019 M1642.57 806 V1019 M1671.83 806 V1019 M1701.09 806 V1019 M1730.34 806 V1019 M1759.6 806 V1019 M1788.86 806 V1019 M1818.11 806 V1019 M1847.37 806 V1019 M1876.63 806 V1019 M1905.89 806 V1019 M1935.14 806 V1019 M1350 965.95 H1964 M1350 912.6 H1964 M1350 859.25 H1964" stroke="#a6a8b0" stroke-width="1" fill="none"/><path d="M1350 806 H1964 V1019.3" fill="none" stroke="#fafbfc" stroke-width="3.6" opacity=".75"/><path d="M1350 806 H1964 V1019.3" fill="none" stroke="#464646" stroke-width="2"/><path d="M1342 1019.3 H1965" fill="none" stroke="#1c1c1c" stroke-width="2"/><path d="M1350 805 V1026.8" fill="none" stroke="#1c1c1c" stroke-width="2"/><path d="M1379.26 1019.3 V1026.8 M1408.51 1019.3 V1026.8 M1437.77 1019.3 V1026.8 M1467.03 1019.3 V1026.8 M1496.29 1019.3 V1026.8 M1525.54 1019.3 V1026.8 M1554.8 1019.3 V1026.8 M1584.06 1019.3 V1026.8 M1613.31 1019.3 V1026.8 M1642.57 1019.3 V1026.8 M1671.83 1019.3 V1026.8 M1701.09 1019.3 V1026.8 M1730.34 1019.3 V1026.8 M1759.6 1019.3 V1026.8 M1788.86 1019.3 V1026.8 M1818.11 1019.3 V1026.8 M1847.37 1019.3 V1026.8 M1876.63 1019.3 V1026.8 M1905.89 1019.3 V1026.8 M1935.14 1019.3 V1026.8 M1964.4 1019.3 V1026.8 M1342 965.95 H1350 M1342 912.6 H1350 M1342 859.25 H1350 M1342 805.9 H1350" stroke="#1c1c1c" stroke-width="1.9" fill="none"/><path d="M1352.9 821 H1963" stroke="#ff0000" stroke-width="2" stroke-dasharray="2 2" fill="none"/><path d="M1379.26 1007.3 L1408.51 998.3 L1437.77 969.6 L1467.03 921.5 L1496.29 821.4 L1525.54 932.7 L1554.8 900.7" fill="none" stroke="#0a0a0a" stroke-width="2.4" stroke-linejoin="round"/><rect x="1374.06" y="1002.1" width="10.4" height="10.4" fill="#7de0d8" stroke="#0a0a0a" stroke-width="2"/><rect x="1403.31" y="993.1" width="10.4" height="10.4" fill="#7de0d8" stroke="#0a0a0a" stroke-width="2"/><rect x="1432.57" y="964.4" width="10.4" height="10.4" fill="#7de0d8" stroke="#0a0a0a" stroke-width="2"/><rect x="1461.83" y="916.3" width="10.4" height="10.4" fill="#7de0d8" stroke="#0a0a0a" stroke-width="2"/><rect x="1491.09" y="816.2" width="10.4" height="10.4" fill="#7de0d8" stroke="#0a0a0a" stroke-width="2"/><path d="M1525.54 925.3 L1532.94 932.7 L1525.54 940.1 L1518.14 932.7 Z" fill="#f1b9fb" stroke="#0a0a0a" stroke-width="1.8"/><path d="M1554.8 893.3 L1562.2 900.7 L1554.8 908.1 L1547.4 900.7 Z" fill="#f1b9fb" stroke="#0a0a0a" stroke-width="1.8"/><text x="1338" y="1023.9" text-anchor="end" font-size="12.9" fill="#3a3c44">0</text><text x="1338" y="970.55" text-anchor="end" font-size="12.9" fill="#3a3c44">250</text><text x="1338" y="917.2" text-anchor="end" font-size="12.9" fill="#3a3c44">500</text><text x="1338" y="863.85" text-anchor="end" font-size="12.9" fill="#3a3c44">750</text><text x="1338" y="810.5" text-anchor="end" font-size="12.9" fill="#3a3c44">1000</text><text x="1349.7" y="1044.4" text-anchor="middle" font-size="12.9" fill="#3a3c44">0</text><text x="1378.96" y="1044.4" text-anchor="middle" font-size="12.9" fill="#3a3c44">1</text><text x="1408.21" y="1044.4" text-anchor="middle" font-size="12.9" fill="#3a3c44">2</text><text x="1437.47" y="1044.4" text-anchor="middle" font-size="12.9" fill="#3a3c44">3</text><text x="1466.73" y="1044.4" text-anchor="middle" font-size="12.9" fill="#3a3c44">4</text><text x="1495.99" y="1044.4" text-anchor="middle" font-size="12.9" fill="#3a3c44">5</text><text x="1525.24" y="1044.4" text-anchor="middle" font-size="12.9" fill="#3a3c44">6</text><text x="1554.5" y="1044.4" text-anchor="middle" font-size="12.9" fill="#3a3c44">7</text><text x="1583.76" y="1044.4" text-anchor="middle" font-size="12.9" fill="#3a3c44">8</text><text x="1613.01" y="1044.4" text-anchor="middle" font-size="12.9" fill="#3a3c44">9</text><text x="1642.27" y="1044.4" text-anchor="middle" font-size="12.9" fill="#3a3c44">10</text><text x="1671.53" y="1044.4" text-anchor="middle" font-size="12.9" fill="#3a3c44">11</text><text x="1700.79" y="1044.4" text-anchor="middle" font-size="12.9" fill="#3a3c44">12</text><text x="1730.04" y="1044.4" text-anchor="middle" font-size="12.9" fill="#3a3c44">13</text><text x="1759.3" y="1044.4" text-anchor="middle" font-size="12.9" fill="#3a3c44">14</text><text x="1788.56" y="1044.4" text-anchor="middle" font-size="12.9" fill="#3a3c44">15</text><text x="1817.81" y="1044.4" text-anchor="middle" font-size="12.9" fill="#3a3c44">16</text><text x="1847.07" y="1044.4" text-anchor="middle" font-size="12.9" fill="#3a3c44">17</text><text x="1876.33" y="1044.4" text-anchor="middle" font-size="12.9" fill="#3a3c44">18</text><text x="1905.59" y="1044.4" text-anchor="middle" font-size="12.9" fill="#3a3c44">19</text><text x="1934.84" y="1044.4" text-anchor="middle" font-size="12.9" fill="#3a3c44">20</text><text x="1964.1" y="1044.4" text-anchor="middle" font-size="12.9" fill="#3a3c44">21</text></svg>
<div class="b" style="left:0px;top:1082.5px;width:2000px;height:15.5px;background:#ffffff;"></div>
</div>
</body></html>
